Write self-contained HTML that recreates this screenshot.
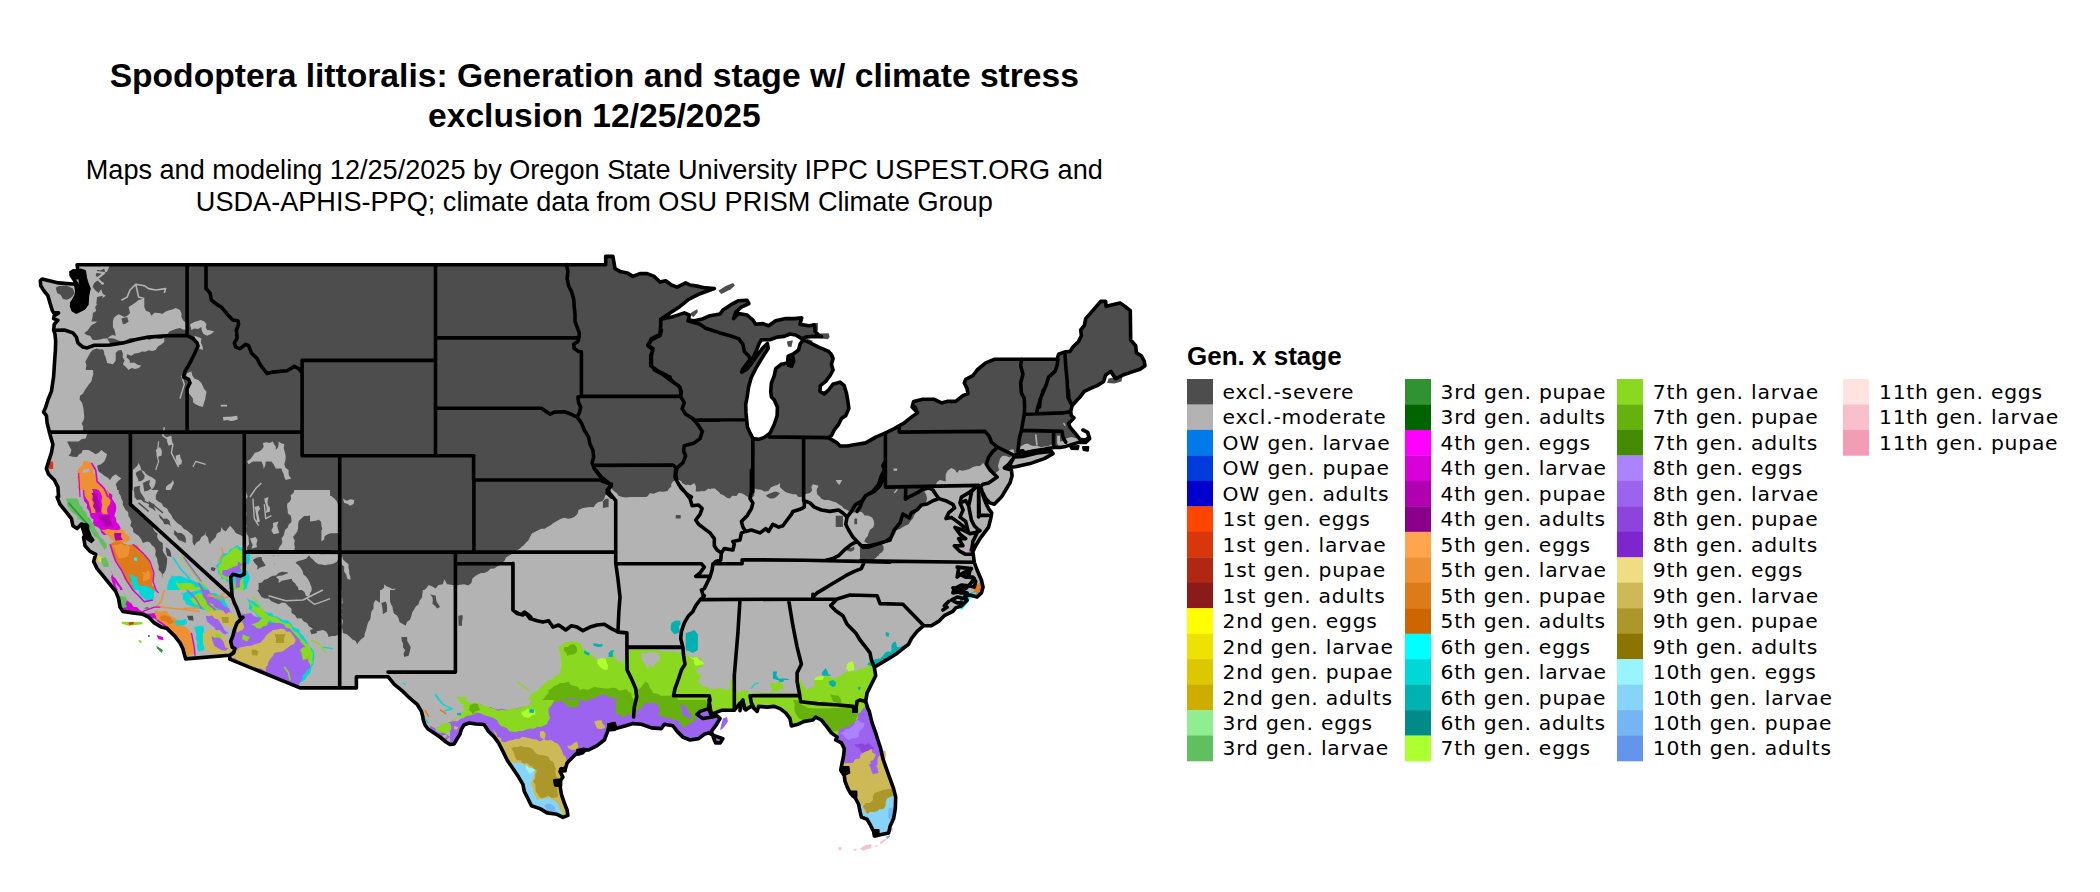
<!DOCTYPE html>
<html lang="en"><head><meta charset="utf-8"><title>Spodoptera littoralis: Generation and stage w/ climate stress exclusion 12/25/2025</title>
<style>
html,body{margin:0;padding:0;background:#fff}
body{width:2100px;height:892px;overflow:hidden}
svg{display:block}
.t{font-family:"Liberation Sans",Arial,sans-serif;font-weight:bold;font-size:33.62px;fill:#000;text-anchor:middle}
.s{font-family:"Liberation Sans",Arial,sans-serif;font-size:27.12px;fill:#000;text-anchor:middle}
.lt{font-family:"Liberation Sans",Arial,sans-serif;font-weight:bold;font-size:26.0px;fill:#000}
.ll{font-family:"DejaVu Sans",Verdana,sans-serif;font-size:20.3px;letter-spacing:0.78px;fill:#000}
.b{fill:none;stroke:#000;stroke-width:3.6;stroke-linejoin:round;stroke-linecap:round}
</style></head><body>
<svg width="2100" height="892" viewBox="0 0 2100 892">
<rect width="2100" height="892" fill="#fff"/>
<text class="t" x="594.3" y="87.2">Spodoptera littoralis: Generation and stage w/ climate stress</text>
<text class="t" x="594.3" y="127.4">exclusion 12/25/2025</text>
<text class="s" x="594.3" y="179.1">Maps and modeling 12/25/2025 by Oregon State University IPPC USPEST.ORG and</text>
<text class="s" x="594.3" y="211.1">USDA-APHIS-PPQ; climate data from OSU PRISM Climate Group</text>
<defs><clipPath id="land"><path d="M77.1,264.7 L77.9,270.0 L84.3,271.4 L85.4,278.6 L87.1,284.3 L88.9,288.6 L87.4,295.7 L86.9,304.3 L83.1,308.6 L77.1,311.7 L72.9,308.9 L71.7,303.1 L76.0,298.6 L78.6,292.9 L79.7,287.4 L77.1,284.3 L72.9,277.9 L71.0,275.0 L72.9,271.7 L76.0,271.0 L80.0,274.3 L82.9,278.6 L84.3,285.7 L85.0,292.9 L83.6,300.0 L80.0,305.7 L75.7,307.1 L74.3,302.9 L77.9,297.1 L75.7,284.3 L58.6,282.9 L42.1,279.0 L40.3,280.7 L40.7,285.7 L44.3,291.4 L47.9,295.7 L50.0,302.9 L52.1,310.0 L53.6,312.9 L58.6,312.9 L54.3,315.7 L53.6,318.6 L57.9,320.3 L54.3,324.3 L53.6,330.0 L55.0,334.3 L55.7,341.4 L55.4,350.0 L54.6,361.4 L53.6,377.0 L52.9,381.4 L51.4,391.4 L47.9,400.0 L45.7,407.1 L43.6,412.1 L46.4,415.7 L47.1,422.9 L49.3,431.7 L50.7,437.1 L52.9,444.3 L51.4,452.9 L48.6,461.4 L46.4,468.6 L48.6,474.3 L54.3,480.0 L57.9,487.1 L58.6,497.0 L57.1,497.1 L60.0,504.3 L65.7,511.4 L71.4,518.6 L72.9,525.7 L77.1,528.6 L81.4,524.3 L87.1,525.7 L85.7,532.9 L91.4,540.0 L87.1,537.1 L83.6,537.1 L85.0,545.7 L90.0,551.4 L95.7,554.3 L93.6,561.4 L97.1,568.6 L102.9,575.7 L110.0,584.3 L115.7,591.4 L118.6,598.6 L120.0,607.1 L122.9,611.4 L132.9,612.9 L142.9,614.3 L148.6,617.0 L148.6,617.0 L154.3,622.9 L161.4,627.1 L167.1,628.6 L174.3,635.7 L180.0,642.9 L182.9,648.6 L184.3,654.3 L185.7,658.9 L185.7,658.9 L230.0,655.3 L229.7,659.1 L300.0,687.9 L356.4,687.9 L356.4,676.7 L388.0,676.7 L394.3,684.3 L402.9,691.4 L408.6,697.1 L417.1,704.3 L421.4,711.4 L422.9,717.0 L423.0,719.0 L425.0,725.0 L428.0,729.0 L434.0,733.0 L440.0,737.0 L446.0,742.0 L450.0,744.5 L454.0,744.0 L457.0,739.0 L460.0,734.0 L461.5,729.0 L464.0,725.0 L469.0,723.0 L476.0,724.0 L484.0,724.5 L488.6,731.4 L494.3,737.1 L498.6,742.9 L502.9,751.4 L507.1,760.0 L512.9,768.6 L518.6,777.1 L522.9,784.3 L524.3,791.4 L528.6,800.0 L531.4,805.7 L540.0,808.6 L547.1,812.9 L557.1,814.3 L562.9,817.4 L567.9,815.4 L567.9,815.4 L567.1,810.0 L564.3,802.9 L561.4,794.3 L560.0,785.7 L555.7,784.3 L555.0,780.7 L560.7,780.0 L562.9,777.1 L560.0,771.4 L561.4,768.6 L565.0,770.0 L567.1,762.9 L572.9,757.1 L578.6,751.4 L582.9,750.0 L588.6,750.0 L597.1,745.7 L604.3,740.0 L607.1,732.9 L609.3,725.0 L614.3,723.6 L615.7,728.6 L625.7,725.7 L632.9,723.6 L641.4,724.3 L651.4,727.9 L661.4,728.6 L664.3,724.3 L672.9,725.7 L677.1,731.4 L682.9,737.1 L690.0,740.0 L698.6,738.6 L704.3,734.3 L708.6,732.9 L714.3,735.7 L722.9,738.6 L720.3,742.9 L715.7,742.9 L714.3,740.0 L711.4,731.4 L715.7,725.7 L720.0,718.6 L717.1,715.7 L712.1,717.0 L712.1,717.0 L714.3,713.1 L721.4,710.3 L734.3,710.3 L740.0,703.1 L742.9,701.7 L745.7,710.0 L751.4,706.0 L757.1,711.4 L758.6,706.4 L767.1,707.1 L774.3,706.4 L780.0,708.6 L785.7,712.9 L790.0,718.6 L791.4,726.0 L797.1,724.6 L804.3,721.4 L812.9,720.0 L815.7,717.1 L821.4,720.0 L827.1,727.1 L831.4,732.9 L837.1,737.1 L835.7,740.0 L841.4,742.9 L844.3,748.6 L843.6,755.7 L842.1,762.9 L840.7,770.0 L844.3,775.7 L845.0,781.4 L847.9,788.6 L850.7,793.6 L855.7,798.6 L858.6,804.3 L860.0,811.4 L861.4,817.1 L867.1,819.3 L870.7,825.7 L873.6,831.4 L875.0,836.0 L881.4,834.6 L888.6,832.9 L890.3,825.7 L893.6,818.6 L895.3,808.6 L895.7,797.1 L893.6,788.6 L890.0,778.6 L886.4,768.6 L882.9,758.6 L880.7,748.6 L877.9,740.0 L875.7,732.9 L872.1,722.9 L869.3,711.4 L867.9,708.6 L865.7,701.4 L867.1,692.9 L871.4,684.3 L875.7,675.7 L874.3,667.1 L881.4,662.9 L888.6,658.6 L895.7,654.3 L902.9,648.6 L908.6,644.3 L911.4,638.6 L917.1,631.4 L923.6,625.7 L931.4,625.7 L938.6,621.4 L944.3,615.7 L952.9,611.4 L955.7,607.9 L961.4,606.0 L967.1,600.3 L965.0,596.0 L970.0,595.0 L977.1,597.0 L981.4,592.9 L983.1,587.1 L981.4,580.0 L977.1,570.0 L974.3,562.3 L972.9,551.7 L975.7,545.7 L980.0,538.6 L984.3,532.9 L988.6,527.1 L990.7,518.6 L991.7,512.9 L988.6,508.6 L985.7,502.9 L983.1,495.7 L981.4,488.6 L980.0,488.6 L980.0,488.6 L982.9,492.9 L985.7,498.6 L990.0,502.9 L994.3,504.3 L1001.4,497.1 L1005.7,490.0 L1010.0,482.9 L1012.1,475.7 L1011.4,470.0 L1004.3,467.9 L1008.6,464.3 L1013.6,457.9 L1008.6,467.4 L1015.7,466.7 L1030.0,463.6 L1044.3,458.6 L1053.1,453.6 L1051.4,451.4 L1037.1,452.9 L1022.9,456.4 L1013.6,457.1 L1015.7,455.0 L1022.9,452.9 L1034.3,450.7 L1044.3,449.3 L1053.6,447.4 L1060.0,447.4 L1065.7,446.4 L1071.4,444.6 L1078.6,442.4 L1085.7,442.4 L1089.6,438.6 L1087.9,432.6 L1082.9,430.0 L1087.4,432.1 L1088.9,437.1 L1085.7,440.0 L1080.0,439.3 L1077.1,435.7 L1073.6,431.4 L1070.0,427.1 L1068.6,423.6 L1073.9,417.9 L1071.4,415.7 L1070.7,411.4 L1072.1,405.7 L1077.1,400.0 L1080.0,397.1 L1084.3,391.4 L1090.0,388.6 L1097.1,385.7 L1103.6,381.4 L1105.7,375.0 L1110.7,371.4 L1115.7,378.6 L1122.9,375.0 L1131.4,372.1 L1140.0,369.3 L1145.0,365.7 L1144.3,361.4 L1141.4,355.7 L1136.4,352.9 L1135.7,345.7 L1130.7,340.0 L1130.3,310.7 L1125.0,306.4 L1120.0,302.9 L1111.4,305.0 L1106.0,306.4 L1105.7,301.4 L1100.7,301.4 L1091.4,312.1 L1085.7,318.6 L1084.3,325.7 L1080.7,330.0 L1081.4,335.7 L1078.6,341.4 L1072.9,347.1 L1070.0,351.4 L1064.3,352.1 L1058.6,354.3 L1057.1,359.0 L994.3,359.3 L985.7,362.9 L977.1,370.0 L972.9,375.7 L965.7,379.3 L964.3,382.9 L967.1,388.6 L967.9,393.6 L962.9,395.7 L955.7,401.4 L947.1,401.4 L941.4,402.9 L934.3,399.3 L922.9,399.3 L913.6,401.4 L912.1,407.0 L916.4,411.4 L915.0,407.1 L917.4,412.9 L911.4,417.1 L904.3,422.9 L894.3,428.6 L885.7,432.9 L875.7,437.1 L865.7,442.9 L857.1,444.3 L847.1,446.0 L840.0,446.0 L837.1,442.9 L828.6,437.9 L831.4,435.7 L834.3,430.0 L838.6,424.3 L841.4,418.6 L845.7,415.7 L848.9,408.6 L847.9,401.4 L846.4,392.9 L844.3,385.7 L840.0,382.1 L832.9,384.3 L828.6,390.0 L824.3,393.9 L820.0,391.4 L820.3,385.7 L825.7,381.4 L830.0,375.7 L833.1,370.0 L831.4,364.3 L833.1,358.6 L830.7,353.6 L832.1,355.7 L828.6,351.4 L818.6,347.1 L808.6,342.1 L802.9,340.0 L800.0,344.3 L798.6,350.0 L792.9,354.3 L789.3,355.7 L792.9,358.6 L791.4,364.3 L787.4,362.9 L781.4,364.3 L775.7,368.6 L774.3,375.7 L771.4,382.9 L770.7,391.4 L771.4,397.0 L774.3,400.0 L777.4,407.1 L777.1,415.7 L774.3,424.3 L770.0,433.1 L764.3,437.4 L758.6,439.4 L752.9,438.6 L750.0,432.9 L747.4,427.1 L746.7,420.0 L746.0,412.9 L745.7,404.3 L747.1,397.0 L748.6,387.1 L751.4,377.1 L755.7,368.6 L760.0,361.4 L764.3,354.3 L768.3,348.3 L767.4,343.6 L762.9,347.9 L757.9,354.3 L752.9,361.4 L747.1,368.9 L741.7,372.1 L742.6,369.3 L746.4,364.3 L750.0,359.7 L752.9,357.9 L756.4,350.7 L759.3,343.1 L761.4,339.7 L770.0,339.7 L777.1,337.1 L784.3,336.4 L790.0,334.0 L795.7,335.0 L802.1,338.9 L805.7,337.1 L812.9,336.4 L821.7,336.6 L818.6,335.0 L815.1,331.4 L814.6,325.0 L808.6,325.7 L800.0,324.3 L801.7,317.9 L794.3,318.6 L785.7,318.6 L775.7,320.7 L768.6,325.7 L762.9,323.6 L755.7,324.3 L752.9,320.0 L747.1,315.0 L738.6,313.6 L733.6,318.6 L735.7,312.1 L741.4,307.1 L748.9,303.6 L747.1,300.3 L738.6,300.7 L732.9,303.6 L722.9,310.0 L720.0,314.0 L710.0,315.7 L701.4,319.3 L694.3,320.7 L688.6,320.0 L689.3,315.0 L684.3,312.9 L671.4,317.1 L660.7,319.3 L670.0,312.9 L680.0,306.4 L688.6,299.3 L698.6,294.3 L714.3,288.6 L705.7,287.9 L698.6,286.4 L690.0,285.0 L685.7,282.9 L677.1,287.1 L671.4,285.0 L665.7,280.7 L660.0,282.1 L654.3,276.4 L647.1,273.6 L640.0,273.6 L632.9,276.4 L627.1,272.9 L620.0,271.4 L615.0,268.6 L612.9,256.4 L605.7,256.4 L605.7,264.7Z"/></clipPath></defs>
<g clip-path="url(#land)">
<rect x="30" y="240" width="1130" height="630" fill="#4d4d4d"/>
<path fill="#b3b3b3" d="M77.0,300.0 L79.5,299.0 L80.0,302.0 L77.8,302.8Z"/>
<path fill="#b3b3b3" d="M30.0,264.7 L110.0,264.7 L108.7,268.1 L107.1,271.4 L103.9,273.4 L101.1,275.8 L98.6,278.6 L101.1,281.2 L104.3,282.9 L102.5,286.3 L101.4,290.0 L102.6,293.6 L105.7,295.7 L103.3,297.6 L100.7,299.3 L99.3,302.2 L97.1,304.3 L95.2,306.9 L96.1,310.9 L92.9,312.9 L92.6,317.2 L91.4,321.4 L97.1,321.4 L94.9,323.6 L92.0,324.7 L90.0,327.1 L87.6,330.4 L84.3,332.9 L86.7,335.1 L90.0,335.7 L92.9,340.0 L96.5,339.9 L100.0,339.5 L103.5,338.6 L107.1,338.6 L110.0,342.9 L107.4,345.9 L104.3,348.6 L100.5,349.5 L96.5,348.4 L92.9,350.0 L90.5,352.6 L88.8,355.5 L87.1,358.6 L85.3,361.7 L86.5,365.3 L85.7,368.6 L86.5,371.7 L87.4,374.8 L90.0,377.0 L30.0,377.0Z"/>
<path fill="#b3b3b3" d="M107.1,338.6 L110.5,338.2 L113.8,338.4 L116.8,339.8 L119.8,340.9 L122.9,342.1 L126.2,340.2 L129.5,338.3 L133.2,338.1 L137.1,338.6 L140.8,337.3 L144.8,337.1 L148.6,336.4 L151.9,335.3 L155.4,335.7 L158.9,336.4 L162.2,334.8 L165.7,335.4 L168.8,335.4 L171.8,336.0 L174.9,337.2 L178.0,336.0 L181.0,335.5 L184.1,336.1 L187.1,335.1 L188.2,332.0 L187.4,329.0 L188.5,325.8 L186.4,322.9 L183.2,320.6 L181.4,317.1 L181.5,313.4 L180.0,310.0 L175.7,307.9 L172.5,309.4 L169.0,310.2 L165.7,311.4 L162.5,313.7 L158.6,312.9 L154.4,312.7 L151.4,315.7 L149.7,312.3 L145.9,310.7 L144.3,307.1 L144.3,298.6 L138.6,300.0 L135.8,302.2 L132.9,304.3 L128.6,307.1 L130.0,312.9 L127.6,315.6 L124.3,317.1 L121.5,315.5 L118.6,314.3 L115.8,316.0 L113.7,318.2 L112.9,321.4 L112.9,327.1 L114.4,329.8 L115.2,332.7 L115.7,335.7 L112.3,335.1 L109.6,336.5Z"/>
<path fill="#b3b3b3" d="M101.4,345.7 L102.1,348.7 L104.0,351.2 L104.3,354.3 L105.6,357.0 L106.4,359.9 L107.1,362.9 L112.9,364.3 L115.5,360.9 L115.8,356.9 L115.7,352.9 L118.1,350.5 L121.4,350.0 L122.9,353.5 L122.6,357.1 L124.6,360.5 L122.9,364.3 L125.9,366.9 L128.6,370.0 L131.5,368.1 L135.4,369.0 L138.6,368.1 L141.4,365.7 L137.6,364.7 L134.1,362.5 L130.0,362.9 L129.5,359.9 L126.6,357.6 L127.1,354.3 L131.2,355.7 L134.8,353.4 L138.6,352.9 L141.9,351.4 L145.4,351.8 L148.7,350.3 L152.3,350.9 L155.7,350.0 L157.9,346.6 L161.2,344.5 L164.3,342.1 L164.3,337.9 L161.3,339.1 L158.3,339.0 L155.2,338.0 L152.2,338.8 L149.3,339.9 L146.2,338.8 L143.2,339.4 L140.1,338.8 L137.1,339.3 L133.9,338.9 L130.9,339.7 L128.0,341.4 L124.5,339.6 L121.6,341.2 L118.8,343.0 L115.7,343.6 L112.2,344.6 L108.6,344.9 L105.3,347.3Z"/>
<path fill="#b3b3b3" d="M190.0,324.3 L194.3,322.1 L197.6,321.1 L200.8,320.0 L204.3,321.4 L206.4,323.9 L205.8,327.3 L207.1,330.0 L210.7,330.6 L214.3,331.4 L211.0,334.0 L207.1,335.7 L203.5,334.0 L201.9,331.0 L201.4,327.1 L198.1,328.9 L194.3,328.6 L191.4,330.0Z"/>
<path fill="#b3b3b3" d="M194.3,335.7 L198.0,336.9 L201.4,338.6 L200.9,342.5 L202.6,346.2 L202.9,350.0 L198.6,348.6 L198.0,345.0 L197.1,341.4 L195.4,338.7Z"/>
<path fill="#4d4d4d" d="M55.7,287.4 L59.1,285.9 L62.9,285.7 L66.6,285.4 L69.7,287.1 L72.9,288.6 L74.6,292.9 L72.6,296.0 L70.0,298.6 L66.5,299.7 L62.9,298.9 L60.8,295.1 L57.1,292.9Z"/>
<path fill="#4d4d4d" d="M172.9,330.0 L176.4,328.8 L180.0,327.9 L183.0,329.5 L186.4,330.0 L186.4,334.6 L167.1,334.6 L169.4,331.5Z"/>
<path fill="#b3b3b3" d="M30.0,370.0 L92.9,370.0 L93.4,373.9 L92.2,377.7 L91.4,381.4 L89.1,384.1 L87.1,387.1 L84.9,390.1 L83.1,393.5 L80.0,395.7 L79.6,399.4 L81.9,402.4 L82.9,405.7 L83.6,409.5 L83.9,413.3 L84.3,417.1 L83.6,420.3 L81.7,423.4 L83.2,426.8 L82.9,430.0 L84.9,432.3 L87.1,434.3 L85.7,438.6 L81.8,439.1 L78.6,441.4 L67.1,441.4 L68.4,444.3 L69.9,447.2 L71.4,450.0 L70.6,453.2 L68.6,455.7 L72.8,456.7 L77.1,457.1 L78.8,454.6 L81.6,452.9 L82.9,450.0 L88.6,450.0 L92.2,452.0 L95.7,454.3 L98.9,452.6 L101.4,450.0 L104.2,452.3 L107.1,454.3 L105.9,457.9 L104.3,461.4 L101.1,464.2 L97.1,465.7 L98.6,471.4 L101.6,473.4 L104.3,475.7 L107.5,477.4 L110.0,480.0 L112.3,476.6 L115.7,474.3 L118.5,476.5 L121.4,478.6 L118.1,481.0 L115.7,484.3 L117.0,487.7 L117.1,491.4 L117.7,495.4 L121.4,497.0 L30.0,497.0Z"/>
<path fill="#ee9034" d="M83.6,460.7 L86.8,461.2 L90.0,462.1 L91.9,464.9 L94.3,467.1 L92.9,472.9 L96.5,475.5 L97.1,480.0 L99.2,483.2 L102.9,484.3 L103.3,487.6 L105.1,490.3 L107.1,492.9 L107.9,497.0 L79.3,497.0 L79.0,493.8 L79.6,490.6 L77.1,487.6 L78.6,484.3 L78.0,481.1 L76.9,478.0 L77.7,474.6 L77.1,471.4 L79.1,468.1 L82.1,465.7Z"/>
<path fill="#b100b1" d="M92.1,489.3 L97.1,489.3 L97.1,497.0 L92.1,497.0Z"/>
<path fill="#b3b3b3" d="M82.9,470.0 L86.4,468.9 L90.0,468.6 L88.6,472.1 L82.9,473.1Z"/>
<path fill="#d8360b" d="M49.7,461.4 L52.9,461.4 L53.2,465.1 L53.1,468.9 L48.6,468.9 L47.9,465.0Z"/>
<path fill="#b3b3b3" d="M132.9,470.0 L135.1,467.9 L137.4,465.8 L138.6,462.9 L140.3,466.3 L141.4,470.0 L144.2,471.5 L146.1,474.0 L148.6,475.7 L152.3,477.6 L155.7,480.0 L155.5,483.1 L154.6,486.0 L152.9,488.6 L150.5,490.5 L149.4,493.6 L146.0,494.5 L144.3,497.0 L132.9,497.0Z"/>
<path fill="#b3b3b3" d="M165.7,490.0 L166.2,486.6 L168.6,484.5 L171.4,482.7 L172.9,480.0 L174.0,482.9 L172.5,486.3 L170.9,489.7 L167.4,491.7Z"/>
<path fill="#b3b3b3" d="M187.1,372.9 L191.4,371.4 L192.3,375.2 L194.3,378.6 L198.4,379.9 L201.4,382.9 L202.8,386.0 L204.1,389.1 L206.6,391.8 L205.7,395.7 L205.2,399.6 L203.8,403.3 L202.9,407.1 L198.6,405.7 L195.5,404.3 L193.1,402.3 L192.9,398.6 L190.8,395.5 L188.2,392.7 L188.6,388.6 L189.2,385.3 L187.8,382.3 L186.6,379.2 L185.9,376.1Z"/>
<path fill="#b3b3b3" d="M222.9,417.1 L226.4,416.8 L230.0,416.7 L233.6,416.2 L237.1,415.7 L237.9,419.3 L234.4,420.5 L230.8,421.0 L227.1,420.1 L223.6,420.7Z"/>
<path fill="#b3b3b3" d="M220.7,404.7 L227.1,404.7 L227.1,406.6 L220.7,406.6Z"/>
<path fill="#b3b3b3" d="M247.1,461.4 L250.5,459.1 L252.9,455.7 L254.9,452.7 L258.5,451.8 L261.4,450.0 L263.7,446.7 L262.9,442.9 L266.2,442.2 L269.7,443.1 L272.9,441.4 L274.0,444.2 L275.9,446.8 L275.7,450.0 L277.9,447.5 L278.6,444.6 L278.6,441.4 L281.2,443.3 L284.3,444.3 L283.7,448.2 L284.8,452.0 L285.7,455.7 L285.5,460.1 L284.3,464.3 L285.5,467.8 L288.6,470.0 L288.5,473.2 L289.2,476.1 L291.4,478.6 L285.7,480.0 L284.3,477.3 L283.8,474.2 L282.4,471.5 L281.4,468.6 L275.7,468.6 L273.9,464.8 L271.4,461.4 L265.7,461.4 L265.3,465.2 L263.8,468.9 L264.3,472.9 L263.8,468.9 L263.0,465.1 L261.4,461.4 L252.9,461.4 L248.6,464.3Z"/>
<path fill="#b3b3b3" d="M605.7,497.0 L608.5,495.4 L610.0,492.7 L611.4,490.0 L614.0,492.1 L615.1,495.8 L618.6,497.0Z"/>
<path fill="#b3b3b3" d="M645.7,497.0 L649.3,496.1 L652.4,494.3 L655.7,492.9 L659.2,491.4 L662.8,491.8 L666.4,491.2 L670.0,491.4 L671.5,488.2 L671.1,484.5 L672.9,481.4 L678.6,480.0 L681.7,481.4 L682.5,484.7 L684.3,487.1 L687.5,484.6 L691.4,485.7 L694.3,481.4 L692.2,484.5 L691.4,487.8 L692.9,491.4 L704.3,491.4 L708.5,491.7 L711.4,488.6 L715.0,488.6 L717.4,490.8 L720.0,492.9 L720.0,497.0Z"/>
<path fill="#b3b3b3" d="M935.7,485.4 L937.0,482.0 L940.0,480.0 L945.7,481.4 L945.7,474.3 L947.8,470.4 L951.4,467.9 L954.9,469.7 L957.1,472.9 L959.3,469.9 L962.8,470.8 L965.7,470.0 L969.5,469.0 L972.9,467.1 L976.4,466.1 L980.3,466.0 L982.9,462.9 L986.4,465.7 L990.0,470.0 L991.1,473.2 L994.3,474.3 L997.1,477.1 L994.1,479.1 L991.4,481.4 L988.4,482.4 L985.2,483.0 L982.9,485.4Z"/>
<path fill="#b3b3b3" d="M988.6,482.9 L991.7,481.4 L995.2,480.4 L997.1,477.1 L994.3,474.3 L996.8,472.1 L999.3,470.0 L997.9,466.1 L999.0,462.3 L1000.0,458.6 L1002.3,456.1 L1005.7,455.7 L1009.8,457.4 L1013.6,455.0 L1013.6,457.9 L1010.6,459.7 L1009.7,463.6 L1007.3,466.0 L1004.3,467.9 L1007.7,469.5 L1011.4,470.0 L1012.1,475.7 L1012.6,479.8 L1010.0,482.9 L1006.7,485.8 L1005.7,490.0 L1004.7,494.3 L1001.4,497.1 L998.0,498.5 L995.8,501.0 L994.3,504.3 L990.0,502.9 L987.7,500.9 L985.7,498.6 L984.3,495.7 L982.9,492.9 L980.0,488.6 L982.9,484.3Z"/>
<path fill="#b3b3b3" d="M1009.3,450.0 L1013.6,449.3 L1014.3,453.6 L1010.0,454.6Z"/>
<path fill="#b3b3b3" d="M1020.7,446.4 L1024.3,444.3 L1027.6,443.6 L1030.7,445.3 L1033.8,446.1 L1037.1,445.4 L1040.8,447.2 L1044.4,446.5 L1047.9,446.2 L1051.4,444.6 L1053.6,446.9 L1050.3,447.0 L1047.2,447.9 L1044.3,449.3 L1041.2,451.4 L1037.7,450.9 L1034.3,450.7 L1030.7,452.6 L1026.5,451.4 L1022.9,452.9 L1017.9,452.9 L1019.0,449.5Z"/>
<path fill="#b3b3b3" d="M1057.1,435.7 L1060.0,435.7 L1060.0,441.4 L1063.3,440.9 L1065.7,438.6 L1071.4,437.1 L1077.1,438.6 L1081.5,439.0 L1085.7,440.0 L1088.9,437.1 L1089.6,438.6 L1085.7,442.4 L1078.6,442.4 L1075.3,443.3 L1072.3,445.9 L1068.8,445.8 L1065.8,447.9 L1062.2,447.7 L1058.6,447.4 L1057.1,442.9Z"/>
<path fill="#b3b3b3" d="M1013.6,457.1 L1016.7,457.1 L1019.8,456.8 L1022.9,456.4 L1026.4,455.4 L1029.7,453.3 L1033.4,453.0 L1037.1,452.9 L1040.7,452.4 L1044.2,451.0 L1047.9,452.1 L1051.4,451.4 L1053.1,453.6 L1050.2,455.3 L1048.2,458.6 L1044.3,458.6 L1041.0,458.3 L1038.3,459.9 L1035.1,459.8 L1032.9,462.6 L1030.0,463.6 L1026.5,464.7 L1023.1,466.3 L1019.2,465.4 L1015.7,466.7 L1012.3,468.5 L1008.6,467.4 L1009.5,463.6 L1011.7,460.5Z"/>
<path fill="#b3b3b3" d="M893.6,468.6 L897.1,468.6 L897.1,470.7 L893.6,470.7Z"/>
<path fill="#b3b3b3" d="M30.0,490.0 L330.0,490.0 L330.0,617.0 L30.0,617.0Z"/>
<path fill="#4d4d4d" d="M118.6,490.0 L130.0,490.0 L130.9,493.5 L130.6,497.1 L131.1,500.7 L130.7,504.3 L132.9,507.3 L136.4,508.9 L138.6,512.0 L141.4,514.3 L144.4,515.9 L146.3,518.5 L147.5,521.9 L150.0,524.0 L152.9,525.7 L153.2,528.8 L154.9,531.5 L157.6,533.7 L157.1,537.1 L158.9,540.6 L162.6,542.9 L162.9,547.1 L162.7,550.5 L164.0,553.2 L165.9,555.8 L167.1,558.6 L167.0,562.4 L166.5,566.2 L165.7,570.0 L164.3,572.7 L162.1,575.1 L162.9,578.6 L162.6,575.1 L161.0,572.3 L158.6,570.0 L158.8,566.1 L157.6,562.4 L157.1,558.6 L155.2,555.0 L155.8,550.8 L154.3,547.1 L151.8,545.3 L150.1,542.6 L147.1,541.4 L142.9,542.9 L141.1,539.0 L138.6,535.7 L135.9,533.9 L133.3,532.1 L132.9,528.6 L130.3,525.7 L131.4,521.8 L130.0,518.6 L128.3,515.8 L128.3,512.3 L125.7,510.0 L124.1,507.3 L122.7,504.6 L122.9,501.4 L121.3,498.8 L120.7,495.7 L118.9,493.2Z"/>
<path fill="#4d4d4d" d="M158.6,490.0 L243.6,490.0 L243.6,537.1 L239.8,534.7 L235.7,532.9 L234.0,530.3 L232.1,527.9 L230.0,525.7 L227.8,528.5 L225.7,531.4 L223.0,529.8 L221.4,527.1 L220.9,531.3 L216.9,533.4 L215.7,537.1 L213.6,539.4 L211.3,541.5 L210.0,544.3 L208.6,541.2 L208.1,537.8 L205.5,535.1 L205.7,531.4 L204.6,535.1 L201.4,537.1 L199.7,540.6 L196.4,542.6 L194.3,545.7 L192.7,542.7 L192.5,539.2 L192.7,535.5 L190.0,532.9 L187.1,530.5 L183.7,528.8 L181.4,525.7 L177.1,522.9 L175.0,520.7 L172.9,518.6 L171.3,515.0 L168.8,512.0 L167.1,508.6 L163.5,506.5 L161.4,502.9 L158.4,501.4 L156.0,499.4 L155.7,495.7 L157.0,492.8Z"/>
<path fill="#4d4d4d" d="M165.7,547.1 L170.0,550.0 L170.9,553.5 L171.4,557.1 L167.1,555.7 L166.1,551.5Z"/>
<path fill="#4d4d4d" d="M211.4,567.1 L215.7,567.9 L214.3,571.4 L210.7,570.0Z"/>
<path fill="#4d4d4d" d="M245.7,490.0 L294.3,490.0 L293.5,493.0 L290.6,495.2 L291.2,498.8 L289.8,501.6 L287.2,503.8 L287.1,507.1 L287.7,510.2 L287.9,513.4 L290.7,515.6 L291.4,518.6 L291.4,522.1 L288.7,524.4 L287.8,527.5 L285.1,529.7 L284.3,532.9 L283.6,535.8 L281.5,538.3 L282.4,541.7 L281.5,544.6 L279.4,547.1 L278.6,550.0 L275.4,550.8 L272.3,552.1 L269.1,550.1 L266.0,551.7 L262.9,550.4 L259.7,550.7 L256.6,549.9 L253.4,550.4 L250.3,550.0 L247.1,550.7 L247.0,547.3 L249.1,544.1 L248.7,540.6 L248.6,537.1 L246.5,533.6 L245.7,529.8 L246.4,525.7 L245.6,522.5 L245.6,519.2 L246.2,516.0 L246.3,512.7 L245.6,509.5 L245.6,506.2 L246.2,503.0 L245.9,499.7 L247.7,496.5 L246.5,493.2Z"/>
<path fill="#4d4d4d" d="M301.4,518.6 L304.1,516.0 L307.7,516.0 L310.9,515.0 L314.3,514.3 L316.6,516.8 L318.6,519.6 L321.1,522.0 L321.4,525.7 L322.3,529.1 L323.0,532.5 L324.3,535.7 L327.2,534.4 L330.0,532.9 L330.0,550.7 L294.3,550.7 L294.9,547.2 L294.2,543.9 L294.8,540.4 L292.9,537.1 L295.1,534.4 L297.2,531.6 L298.1,528.3 L298.1,524.5 L298.8,521.1Z"/>
<path fill="#4d4d4d" d="M252.9,560.0 L255.4,558.2 L258.3,557.2 L261.4,557.1 L262.2,560.3 L264.2,562.9 L265.7,565.7 L262.7,566.8 L259.6,567.7 L257.1,570.0 L257.6,565.9 L254.7,563.1Z"/>
<path fill="#4d4d4d" d="M272.9,555.7 L277.3,556.0 L281.4,554.3 L282.2,557.8 L282.3,561.2 L280.0,564.3 L274.3,564.3 L275.1,559.7Z"/>
<path fill="#4d4d4d" d="M258.6,582.9 L261.9,582.4 L264.2,579.8 L267.3,579.0 L270.0,577.1 L272.9,575.7 L276.1,575.5 L278.4,572.9 L281.3,572.0 L284.2,571.0 L287.1,570.0 L290.0,568.2 L292.1,565.6 L294.7,563.6 L297.1,561.4 L300.2,560.4 L303.4,559.7 L306.4,558.4 L308.6,555.7 L311.7,555.9 L314.7,555.9 L317.8,556.2 L320.7,553.7 L323.8,553.7 L326.9,554.4 L330.0,554.3 L330.0,617.0 L272.9,617.0 L269.9,614.5 L269.3,610.7 L267.3,607.6 L265.7,604.3 L264.6,601.0 L262.9,598.1 L260.9,595.4 L258.6,592.9Z"/>
<path fill="#b3b3b3" d="M275.7,577.1 L278.8,575.8 L282.2,575.6 L285.3,574.3 L288.4,573.1 L291.1,570.9 L294.3,570.0 L296.6,572.4 L299.2,574.6 L301.4,577.1 L303.5,580.2 L305.0,583.6 L306.0,587.2 L308.6,590.0 L307.8,592.9 L306.2,595.6 L305.7,598.6 L303.7,595.4 L300.7,593.1 L298.6,590.0 L297.8,586.8 L296.8,583.7 L293.2,582.0 L292.9,578.6 L289.2,579.3 L285.5,580.0 L281.8,580.7 L278.6,582.9 L278.7,579.2Z"/>
<path fill="#d800d8" d="M82.9,490.0 L107.1,490.0 L109.2,492.7 L112.3,494.7 L112.1,498.7 L113.9,501.5 L115.7,504.3 L116.3,508.2 L115.6,512.0 L114.3,515.7 L116.1,518.4 L116.3,521.9 L118.6,524.3 L120.1,527.1 L121.1,530.2 L122.9,532.9 L120.1,535.2 L116.7,535.8 L112.9,535.0 L110.0,537.1 L107.9,534.3 L103.9,535.0 L101.4,532.9 L100.3,529.3 L97.6,527.1 L94.3,525.7 L93.0,523.0 L93.6,519.4 L90.7,517.3 L90.0,514.3 L89.2,510.9 L86.8,508.0 L87.1,504.3 L84.2,501.3 L83.5,497.6 L83.0,493.9Z"/>
<path fill="#ee9034" d="M84.3,490.0 L92.9,490.0 L92.9,498.6 L94.0,502.1 L95.0,505.7 L95.3,509.5 L97.1,512.9 L91.4,512.9 L90.8,509.0 L89.4,505.3 L88.6,501.4 L86.4,499.0 L84.8,496.3 L84.3,493.2Z"/>
<path fill="#ee9034" d="M98.6,490.0 L107.1,490.0 L109.2,493.3 L108.3,497.2 L110.7,500.4 L110.0,504.3 L107.5,507.2 L106.9,510.6 L107.9,514.3 L102.9,514.3 L101.1,511.2 L101.7,507.9 L102.2,504.6 L101.4,501.4 L102.1,497.2 L100.9,493.5Z"/>
<path fill="#b100b1" d="M91.4,492.9 L98.6,492.9 L97.4,496.2 L97.9,499.3 L99.6,502.2 L99.1,505.4 L100.6,508.4 L101.4,511.4 L95.7,512.9 L95.1,509.5 L92.9,506.5 L93.9,502.8 L92.2,499.7 L92.9,496.0Z"/>
<path fill="#b100b1" d="M98.6,515.7 L102.4,515.3 L106.3,515.7 L110.0,514.3 L110.2,518.3 L111.2,522.1 L112.9,525.7 L108.6,526.6 L104.3,527.1 L103.4,524.0 L101.6,521.4 L99.7,518.7Z"/>
<path fill="#ee9034" d="M101.4,530.0 L104.8,529.7 L108.1,528.9 L111.5,529.8 L114.8,530.0 L118.2,530.1 L121.4,528.6 L124.2,531.0 L126.2,533.9 L129.0,536.3 L130.0,540.0 L126.7,542.1 L123.0,542.2 L119.3,542.0 L115.7,542.9 L112.9,540.6 L110.0,538.6 L108.7,535.6 L106.1,533.9 L103.6,532.1Z"/>
<path fill="#b100b1" d="M114.3,532.9 L121.4,532.9 L120.9,536.7 L122.9,540.0 L119.3,540.3 L115.7,540.7 L114.4,536.9Z"/>
<path fill="#dd7b1a" d="M110.0,544.3 L113.5,542.0 L117.4,541.4 L121.4,541.4 L124.8,544.1 L128.7,544.9 L132.9,544.3 L136.6,544.9 L138.9,547.4 L140.5,550.5 L142.9,552.9 L145.8,555.2 L148.4,557.9 L150.0,561.4 L150.2,565.5 L152.8,568.9 L153.6,572.9 L153.7,577.2 L152.9,581.4 L151.8,584.9 L155.0,587.1 L155.7,590.0 L155.3,593.1 L153.9,595.8 L152.9,598.6 L150.6,601.3 L147.0,600.1 L144.3,601.4 L140.3,599.7 L138.6,595.7 L136.0,592.6 L132.9,590.0 L131.1,587.0 L128.8,584.4 L127.1,581.4 L124.3,579.3 L123.2,576.2 L123.1,572.7 L121.4,570.0 L120.2,566.7 L118.4,563.8 L115.7,561.4 L113.8,558.3 L112.5,554.9 L111.4,551.4 L111.1,547.8Z"/>
<path fill="#ee9034" d="M111.4,545.7 L114.9,545.3 L118.3,544.6 L121.4,542.9 L123.7,545.5 L127.6,544.9 L130.0,547.1 L129.2,550.5 L128.9,554.0 L127.1,557.1 L122.9,558.1 L118.6,558.6 L117.1,555.2 L115.5,551.9 L114.7,548.1Z"/>
<path fill="#ee9034" d="M141.4,571.4 L145.4,572.7 L148.6,570.0 L150.4,574.1 L150.0,578.6 L146.6,580.3 L142.9,581.4 L143.1,578.0 L143.7,574.5Z"/>
<path fill="#00d8d8" d="M128.6,574.3 L134.3,575.7 L137.0,577.6 L137.5,581.0 L138.1,584.3 L141.4,585.7 L145.8,586.0 L150.0,587.1 L152.3,590.0 L154.6,592.9 L152.5,596.1 L152.9,600.0 L148.5,600.7 L144.3,601.7 L142.3,598.8 L140.5,595.8 L138.6,592.9 L136.3,590.8 L133.5,589.1 L132.9,585.7 L131.2,583.1 L131.4,579.8 L130.5,576.8Z"/>
<path fill="#00ffff" d="M134.0,557.6 L137.1,557.6 L137.1,560.7 L134.0,560.7Z"/>
<path fill="#60c060" d="M65.7,498.6 L77.1,498.6 L78.7,501.6 L79.9,504.9 L82.5,507.3 L83.9,510.4 L86.5,512.8 L87.2,516.4 L90.0,518.6 L91.5,521.9 L94.1,524.7 L95.0,528.4 L97.1,531.4 L98.7,534.1 L99.8,537.1 L102.8,538.9 L104.5,541.5 L106.5,543.8 L107.1,547.1 L104.3,550.0 L103.0,546.9 L100.9,544.4 L99.4,541.4 L97.9,538.5 L94.3,537.1 L93.1,534.2 L91.4,531.7 L90.0,528.9 L87.1,527.1 L83.8,526.0 L82.4,523.2 L81.3,520.2 L77.8,519.1 L77.1,515.7 L74.1,513.7 L71.3,511.6 L69.2,508.7 L67.1,505.7 L67.1,502.0Z"/>
<path fill="#eee300" d="M97.1,555.7 L101.4,557.1 L101.6,560.3 L103.1,563.1 L98.6,561.4Z"/>
<path fill="#60c060" d="M101.4,558.6 L105.7,557.1 L107.0,560.4 L108.8,563.5 L108.6,567.1 L104.3,567.1 L102.4,564.6 L101.3,561.8Z"/>
<path fill="#d800d8" d="M110.0,570.0 L112.2,572.6 L112.9,576.3 L115.7,578.6 L117.5,581.4 L119.4,584.2 L121.5,586.9 L122.9,590.0 L123.1,593.6 L126.8,594.8 L127.8,597.8 L130.0,600.0 L133.0,601.2 L135.6,602.9 L136.7,606.1 L138.6,608.6 L141.5,610.5 L144.3,613.0 L147.6,614.2 L151.4,614.3 L154.7,616.5 L158.6,617.0 L144.3,617.0 L141.2,615.7 L138.3,614.1 L135.0,613.2 L132.8,610.3 L130.0,608.6 L126.5,607.2 L124.6,604.5 L122.1,602.3 L121.4,598.6 L119.0,596.2 L116.9,593.5 L116.5,589.9 L113.8,587.6 L112.9,584.3 L111.9,580.8 L111.0,577.2 L112.5,573.2Z"/>
<path fill="#b3b3b3" d="M115.7,581.4 L116.7,584.8 L119.2,587.2 L120.4,590.4 L122.9,592.9 L124.8,595.2 L126.9,597.5 L128.0,600.5 L130.0,602.9 L133.4,604.6 L136.0,607.3 L138.6,610.0 L135.7,611.4 L133.1,608.7 L129.4,607.4 L127.1,604.3 L124.9,601.3 L122.7,598.3 L120.0,595.7 L118.2,592.4 L117.5,588.7 L115.6,585.4Z"/>
<path fill="#60c060" d="M121.4,602.9 L125.7,601.4 L128.0,604.6 L128.6,608.6 L124.3,610.0 L123.1,606.3Z"/>
<path fill="#00d8d8" d="M170.0,578.6 L173.0,576.3 L176.5,576.2 L180.0,575.7 L182.8,577.1 L185.6,578.3 L188.8,578.5 L191.5,580.0 L194.3,581.4 L197.5,582.5 L200.7,583.8 L203.5,585.5 L206.3,587.3 L208.6,590.0 L209.8,593.8 L213.5,595.6 L215.7,598.6 L219.2,600.9 L222.8,602.5 L227.1,601.4 L227.3,604.6 L226.9,607.9 L227.3,611.1 L228.0,614.2 L230.0,617.0 L187.1,617.0 L185.8,613.8 L184.9,610.3 L184.3,606.8 L181.4,604.3 L178.4,602.7 L175.3,601.1 L172.9,598.6 L169.9,596.4 L168.0,593.5 L167.1,590.0 L167.3,586.0 L168.2,582.2Z"/>
<path fill="#8ad81f" d="M175.7,581.4 L179.3,583.6 L183.2,583.1 L187.1,582.9 L190.6,583.1 L193.5,584.4 L195.5,587.5 L199.4,586.9 L201.4,590.0 L204.0,592.1 L207.0,593.9 L208.4,597.0 L210.0,600.0 L213.0,601.9 L216.4,602.1 L220.3,601.2 L222.9,604.3 L224.9,606.8 L226.0,609.8 L227.1,612.9 L223.1,613.9 L219.3,614.0 L215.7,611.4 L213.2,609.2 L210.2,608.2 L206.9,607.7 L204.2,605.9 L201.4,604.3 L198.8,602.6 L196.3,600.6 L193.1,600.1 L190.5,598.6 L187.1,598.6 L184.2,596.1 L181.7,593.4 L180.0,590.0 L178.1,587.4 L176.5,584.6Z"/>
<path fill="#b3b3b3" d="M158.6,598.6 L162.1,598.0 L166.0,599.4 L169.4,597.7 L172.9,596.4 L175.8,599.0 L179.7,600.4 L181.4,604.3 L182.1,607.2 L183.1,610.1 L184.3,612.9 L181.3,614.1 L178.1,614.3 L175.3,616.5 L172.3,617.5 L168.9,616.9 L165.7,617.0 L162.6,614.8 L158.7,613.9 L155.7,611.4 L156.2,608.2 L155.7,604.7 L157.1,601.6Z"/>
<path fill="#b3b3b3" d="M208.6,590.0 L212.4,590.6 L215.7,588.6 L217.0,591.8 L220.3,592.5 L222.6,594.6 L225.4,595.9 L227.1,598.6 L215.7,598.6 L212.3,596.6 L210.8,593.0Z"/>
<path fill="#cdba56" d="M207.1,611.4 L210.4,611.8 L213.4,609.6 L216.6,608.5 L220.0,610.0 L223.2,611.0 L226.1,613.2 L229.7,613.0 L232.9,614.3 L234.3,617.0 L208.6,617.0Z"/>
<path fill="#00d8d8" d="M215.7,565.7 L218.6,563.3 L220.6,560.4 L220.7,556.4 L223.5,553.6 L227.9,553.0 L230.0,549.3 L233.8,547.5 L237.1,545.0 L240.2,547.4 L243.6,549.3 L243.6,575.0 L232.9,575.0 L230.3,578.1 L230.0,582.1 L227.0,581.6 L224.8,578.7 L221.4,579.3 L220.7,575.5 L217.9,572.9 L217.9,569.0Z"/>
<path fill="#8ad81f" d="M218.6,565.7 L221.3,562.2 L222.1,557.9 L225.1,556.1 L227.6,553.8 L230.0,551.4 L233.1,548.6 L237.1,547.1 L239.3,550.2 L242.9,551.4 L242.9,574.3 L232.9,574.3 L230.2,576.6 L229.3,580.0 L225.7,578.9 L222.1,577.9 L220.7,575.0 L219.3,572.1 L218.2,569.0Z"/>
<path fill="#9b63ee" d="M222.9,570.0 L226.5,570.0 L229.7,568.8 L232.9,567.1 L237.2,565.8 L238.6,561.4 L242.1,564.3 L240.4,567.5 L241.5,570.9 L241.4,574.3 L232.9,574.3 L229.8,575.4 L227.1,577.1 L222.1,574.3Z"/>
<path fill="#00d8d8" d="M230.0,575.7 L233.0,575.2 L235.6,573.4 L238.4,572.3 L241.2,571.2 L244.8,572.4 L247.1,570.0 L248.5,573.7 L249.8,577.4 L248.6,581.4 L247.3,584.4 L247.1,587.9 L244.3,590.0 L243.9,594.1 L246.5,597.5 L247.1,601.4 L247.9,605.0 L250.2,607.7 L252.9,610.0 L255.8,612.2 L257.7,615.7 L261.4,617.0 L237.1,617.0 L234.8,614.3 L235.1,610.6 L232.5,607.9 L232.9,604.3 L231.1,600.9 L230.9,597.2 L231.7,593.4 L230.0,590.0Z"/>
<path fill="#8ad81f" d="M234.3,581.4 L237.5,580.1 L240.9,579.4 L244.3,578.6 L243.1,582.3 L243.9,586.3 L242.9,590.0 L243.8,593.8 L243.2,597.7 L244.3,601.4 L246.6,604.5 L248.1,608.1 L250.0,611.4 L250.4,614.7 L252.9,617.0 L241.4,617.0 L240.6,613.7 L238.1,611.0 L237.1,607.8 L237.1,604.3 L235.1,600.7 L234.8,596.8 L234.3,592.9Z"/>
<path fill="#9b63ee" d="M235.7,577.1 L241.4,575.7 L240.5,579.5 L239.7,583.2 L240.0,587.1 L235.7,588.6Z"/>
<path fill="#9b63ee" d="M240.0,611.4 L250.0,611.4 L251.3,614.3 L252.9,617.0 L241.4,617.0Z"/>
<path fill="#00d8d8" d="M244.3,552.9 L250.0,552.9 L249.8,556.7 L250.0,560.6 L248.6,564.3 L244.3,564.3Z"/>
<path fill="#b3b3b3" d="M310.0,490.0 L318.6,490.0 L321.8,491.6 L324.3,494.3 L327.8,495.3 L331.4,496.0 L334.3,498.6 L336.6,501.1 L337.9,504.3 L337.9,532.9 L334.3,533.2 L330.6,533.3 L327.1,534.3 L324.6,536.2 L324.1,539.6 L321.4,541.4 L321.4,530.0 L325.0,528.2 L327.0,525.3 L329.3,522.5 L330.0,518.6 L328.3,514.6 L324.3,512.9 L322.7,515.5 L319.1,516.5 L318.6,520.0 L314.4,521.1 L310.0,521.4Z"/>
<path fill="#b3b3b3" d="M342.9,498.6 L346.5,500.7 L350.5,499.2 L354.3,500.0 L353.6,504.0 L350.0,505.7 L347.4,503.7 L344.3,502.9Z"/>
<path fill="#b3b3b3" d="M310.0,554.3 L337.9,554.3 L338.4,557.9 L337.1,561.4 L334.2,563.2 L331.3,564.3 L328.1,564.6 L325.0,565.2 L321.8,564.4 L318.6,564.3 L315.4,562.3 L312.9,559.5 L310.0,557.1Z"/>
<path fill="#b3b3b3" d="M342.1,555.7 L343.0,559.6 L345.7,562.0 L348.6,564.3 L348.4,567.5 L349.2,570.6 L349.2,573.8 L350.4,576.8 L350.3,580.0 L347.1,578.6 L346.3,574.7 L344.0,571.2 L344.3,567.1 L341.7,564.3 L341.4,560.0Z"/>
<path fill="#b3b3b3" d="M378.6,617.0 L376.7,614.0 L376.3,610.8 L378.1,607.4 L377.1,604.3 L379.6,601.1 L379.2,597.1 L381.0,593.8 L381.4,590.0 L384.0,587.7 L384.3,584.3 L386.7,586.6 L389.6,587.5 L392.3,589.0 L395.7,588.6 L393.0,591.6 L392.9,595.7 L390.8,598.2 L391.0,601.4 L390.0,604.3 L387.9,607.2 L388.0,610.5 L388.9,614.1 L387.1,617.0Z"/>
<path fill="#4d4d4d" d="M382.9,604.3 L385.7,602.9 L387.5,606.0 L387.3,609.4 L387.1,612.9 L383.6,614.3 L382.0,611.1 L383.3,607.6Z"/>
<path fill="#b3b3b3" d="M410.0,617.0 L412.5,615.1 L414.6,612.8 L414.9,609.3 L417.1,607.1 L418.0,603.8 L419.4,600.6 L420.0,597.1 L422.9,594.0 L424.3,590.0 L426.7,587.7 L428.6,585.0 L432.4,586.4 L435.7,588.6 L438.4,585.0 L442.9,584.3 L444.3,579.3 L447.1,584.3 L451.3,584.8 L455.4,585.7 L459.8,584.8 L464.3,584.3 L468.3,585.6 L471.4,582.9 L472.4,578.6 L475.7,575.7 L478.4,574.3 L481.1,572.9 L484.3,572.9 L487.7,571.6 L490.4,568.8 L494.3,568.6 L496.7,566.7 L499.5,565.4 L501.4,562.9 L504.4,561.1 L505.8,557.7 L508.6,555.7 L511.4,554.4 L513.6,552.1 L516.2,550.4 L519.1,549.2 L521.4,547.1 L524.0,545.0 L526.1,542.4 L528.5,540.2 L530.0,537.1 L531.9,533.6 L535.2,531.7 L538.6,530.0 L541.3,528.7 L544.7,528.8 L547.2,526.9 L550.0,525.7 L552.7,523.6 L555.6,521.8 L558.6,520.0 L561.5,518.4 L564.6,517.7 L568.1,518.8 L571.2,518.2 L574.3,517.1 L577.4,514.1 L578.6,510.0 L582.2,508.2 L586.0,507.5 L590.0,507.1 L593.6,507.3 L595.8,504.4 L598.9,503.5 L601.4,501.4 L604.9,500.5 L607.2,497.7 L610.0,495.7 L610.0,617.0Z"/>
<path fill="#4d4d4d" d="M428.6,598.6 L430.8,596.0 L434.3,595.7 L436.4,598.6 L437.4,602.1 L438.9,605.3 L440.3,608.6 L437.1,609.7 L436.3,606.0 L433.8,603.4 L430.8,601.3Z"/>
<path fill="#b3b3b3" d="M590.0,508.6 L593.7,507.6 L595.7,504.3 L598.3,502.0 L602.1,501.5 L604.3,498.6 L605.3,495.3 L608.6,494.3 L610.9,491.9 L611.4,488.6 L613.7,491.0 L616.6,493.0 L618.6,495.7 L622.3,497.1 L626.1,497.6 L630.0,497.1 L647.1,497.1 L650.0,492.9 L653.5,493.9 L656.9,492.8 L660.3,491.9 L663.8,492.9 L667.1,491.4 L669.5,488.0 L672.9,485.7 L674.4,482.2 L675.7,478.6 L679.2,479.9 L681.4,482.9 L684.2,484.1 L686.8,485.8 L690.0,485.7 L694.3,482.9 L696.0,486.5 L695.8,490.4 L695.7,494.3 L698.7,493.7 L701.0,491.0 L704.3,491.4 L708.6,488.6 L711.5,489.8 L714.3,491.4 L717.7,493.2 L721.4,494.3 L724.3,495.7 L726.8,497.7 L730.0,498.6 L732.2,495.7 L736.5,495.9 L738.6,492.9 L741.8,493.2 L744.5,494.7 L747.1,496.4 L751.4,498.6 L754.2,495.8 L754.2,492.2 L754.3,488.6 L757.7,489.4 L761.2,489.7 L764.3,491.4 L768.4,490.9 L770.8,487.4 L774.3,485.7 L777.5,485.0 L780.0,482.9 L779.9,487.1 L782.9,490.0 L785.9,492.2 L789.3,493.3 L792.9,494.3 L796.1,494.2 L798.3,497.0 L801.4,497.1 L804.3,494.3 L810.0,492.9 L812.1,490.4 L811.3,486.9 L812.9,484.3 L818.6,485.7 L816.6,489.8 L817.1,494.3 L819.4,496.3 L821.4,498.7 L824.3,500.0 L828.7,499.9 L832.9,501.4 L836.0,502.3 L838.6,504.2 L841.4,505.7 L843.9,508.4 L847.1,510.0 L851.4,512.9 L855.0,512.3 L858.6,511.4 L862.1,512.3 L864.7,515.6 L868.6,515.7 L872.1,517.5 L873.7,520.5 L874.3,524.3 L873.1,527.6 L870.0,529.7 L868.6,532.9 L867.8,536.0 L865.5,538.4 L864.3,541.4 L866.9,543.3 L870.0,544.3 L873.9,544.2 L877.7,543.8 L881.4,542.9 L884.3,541.5 L887.5,540.8 L890.0,538.6 L890.0,597.0 L590.0,597.0Z"/>
<path fill="#4d4d4d" d="M835.7,515.7 L842.9,515.7 L842.9,527.1 L835.7,527.1Z"/>
<path fill="#4d4d4d" d="M854.3,518.6 L857.1,518.6 L857.1,524.3 L854.3,524.3Z"/>
<path fill="#4d4d4d" d="M860.0,555.7 L863.2,553.7 L865.9,550.5 L870.0,550.0 L881.4,550.0 L879.6,552.7 L878.6,555.7 L875.5,556.3 L873.3,559.1 L870.0,559.3 L860.0,559.3Z"/>
<path fill="#4d4d4d" d="M847.1,547.9 L850.9,548.1 L854.3,546.4 L854.3,550.0 L850.9,551.8 L847.1,550.7Z"/>
<path fill="#4d4d4d" d="M675.7,515.0 L680.7,515.0 L680.7,518.6 L675.7,518.6Z"/>
<path fill="#4d4d4d" d="M602.9,501.4 L605.2,499.0 L608.6,498.6 L608.6,507.1 L602.9,507.9Z"/>
<path fill="#4d4d4d" d="M765.7,495.7 L768.9,493.8 L772.2,492.5 L775.7,491.4 L780.0,492.9 L777.4,496.1 L774.3,498.3 L770.0,498.6Z"/>
<path fill="#b3b3b3" d="M835.7,480.0 L842.1,480.0 L839.3,485.0 L837.2,482.7Z"/>
<path fill="#b3b3b3" d="M890.0,486.9 L1017.1,486.9 L1017.1,597.0 L890.0,597.0Z"/>
<path fill="#4d4d4d" d="M890.0,486.9 L928.6,486.9 L927.1,489.8 L924.3,491.4 L926.2,494.8 L927.1,498.6 L926.1,502.8 L922.9,505.7 L920.2,508.7 L917.1,511.4 L914.5,514.7 L912.9,518.6 L910.4,521.2 L908.6,524.3 L905.7,525.6 L902.9,527.1 L899.5,529.2 L895.7,530.0 L895.2,533.5 L893.3,535.9 L890.0,537.1Z"/>
<path fill="#4d4d4d" d="M860.0,545.0 L863.1,545.5 L866.2,546.2 L869.2,543.9 L872.1,542.6 L875.3,544.4 L878.4,543.8 L881.4,543.6 L883.6,546.4 L883.6,550.1 L881.7,552.6 L878.6,554.3 L876.8,556.9 L874.3,558.9 L870.8,559.9 L867.0,557.7 L863.4,558.7 L860.0,560.3Z"/>
<path fill="#dd7b1a" d="M975.7,584.3 L978.7,583.2 L981.4,581.4 L983.5,583.9 L983.7,587.1 L982.3,592.9 L978.6,595.7 L972.9,594.6 L973.9,591.2 L973.8,587.4Z"/>
<path fill="#00ffff" d="M964.3,594.6 L967.3,592.9 L970.5,592.2 L974.0,592.4 L977.1,591.4 L978.0,597.0 L963.6,597.0Z"/>
<path fill="#d800d8" d="M968.9,548.3 L972.1,550.0 L971.4,552.6 L969.3,551.4Z"/>
<path fill="#b3b3b3" d="M100.0,590.0 L400.0,590.0 L400.0,690.0 L100.0,690.0Z"/>
<path fill="#4d4d4d" d="M257.1,590.0 L341.4,590.0 L341.4,632.9 L338.5,634.8 L335.3,635.9 L331.7,635.9 L328.6,637.1 L327.7,633.9 L326.0,631.4 L322.9,630.0 L318.6,631.0 L314.3,631.4 L312.2,628.3 L308.8,626.3 L307.1,622.9 L303.8,621.5 L301.3,618.2 L297.1,618.6 L295.1,615.3 L291.6,612.9 L291.4,608.6 L288.3,606.0 L285.7,602.9 L281.9,602.4 L278.6,604.3 L275.0,602.8 L271.4,601.3 L268.6,598.6 L264.9,598.4 L261.4,597.1 L259.4,593.5Z"/>
<path fill="#4d4d4d" d="M341.4,590.0 L382.9,590.0 L382.0,593.8 L379.9,597.3 L380.0,601.4 L378.6,604.6 L376.2,606.8 L373.5,608.8 L371.4,611.4 L370.9,615.1 L370.4,618.9 L368.2,622.2 L367.1,625.7 L366.2,629.5 L364.8,633.2 L364.3,637.1 L361.4,639.1 L359.0,641.4 L357.1,644.3 L355.7,640.9 L352.5,639.4 L350.0,637.1 L346.8,634.3 L342.9,632.9 L342.6,629.8 L341.3,626.8 L342.5,623.7 L342.8,620.6 L341.1,617.6 L342.3,614.5 L340.8,611.5 L342.3,608.4 L341.7,605.3 L342.7,602.2 L342.3,599.2 L341.6,596.1 L341.9,593.0Z"/>
<path fill="#4d4d4d" d="M384.3,604.3 L388.6,607.1 L388.3,611.0 L387.3,614.7 L387.1,618.6 L385.2,616.2 L382.9,614.3 L382.1,610.8 L385.3,607.8Z"/>
<path fill="#b3b3b3" d="M375.7,600.0 L380.0,602.9 L380.0,606.0 L379.2,609.1 L379.0,612.3 L378.0,615.3 L378.6,618.6 L374.3,615.7 L374.4,612.6 L373.6,609.3 L373.5,606.1 L373.7,603.0Z"/>
<path fill="#4d4d4d" d="M187.1,615.7 L192.9,615.7 L193.6,620.7 L188.6,620.0Z"/>
<path fill="#4d4d4d" d="M144.3,604.3 L148.6,604.3 L148.6,608.6 L144.3,608.6Z"/>
<path fill="#4d4d4d" d="M310.0,630.0 L315.7,628.6 L317.1,632.9 L311.4,634.3Z"/>
<path fill="#00d8d8" d="M247.1,598.6 L250.5,600.4 L254.4,601.4 L257.1,604.3 L260.4,605.9 L261.8,610.0 L264.9,611.8 L268.6,612.9 L272.1,612.9 L274.0,616.3 L277.4,616.6 L280.0,618.6 L282.9,619.9 L286.5,619.9 L289.2,621.7 L291.4,624.3 L293.0,627.0 L296.0,628.3 L299.1,629.5 L300.0,632.9 L302.8,635.3 L304.9,638.5 L307.1,641.4 L308.4,645.1 L311.2,647.8 L313.6,650.7 L314.3,653.9 L314.3,657.1 L313.8,660.6 L313.6,664.2 L311.4,667.1 L310.9,670.4 L310.0,673.6 L307.1,675.7 L305.7,679.1 L302.8,680.9 L300.0,682.9 L297.1,678.6 L298.9,675.7 L300.2,672.6 L301.3,669.4 L302.5,666.2 L305.7,664.3 L305.7,650.0 L303.3,647.3 L301.7,644.1 L299.8,641.0 L297.1,638.6 L295.1,636.3 L292.9,634.2 L290.8,631.9 L288.1,630.5 L285.7,628.6 L282.6,626.0 L278.3,627.2 L275.0,625.2 L271.4,624.3 L268.5,622.7 L265.6,621.1 L262.8,619.3 L259.0,619.0 L257.1,615.7 L254.9,612.6 L251.6,610.7 L248.6,608.6 L249.3,605.1 L248.7,601.7Z"/>
<path fill="#8ad81f" d="M248.6,601.4 L251.7,603.0 L254.2,605.4 L257.1,607.1 L261.0,608.0 L262.7,611.6 L266.2,613.0 L268.6,615.7 L271.7,616.4 L274.7,617.3 L277.7,618.3 L280.0,620.7 L282.7,622.4 L285.7,623.6 L289.3,623.6 L291.4,626.4 L292.8,630.4 L296.6,632.2 L299.3,635.0 L300.6,638.3 L303.3,640.5 L305.7,642.9 L308.2,644.9 L310.2,647.2 L311.0,650.4 L312.9,652.9 L312.8,656.2 L312.2,659.4 L312.9,663.0 L310.0,665.7 L307.9,669.3 L305.7,672.9 L302.9,670.0 L302.7,666.1 L304.0,662.6 L305.1,659.0 L307.1,655.7 L304.9,653.3 L303.6,650.3 L304.0,646.6 L301.7,644.1 L300.0,641.4 L297.7,639.4 L296.9,636.1 L294.6,634.1 L292.2,632.1 L290.0,630.0 L287.3,628.3 L284.9,626.0 L281.5,625.5 L278.6,624.3 L275.7,623.1 L272.9,622.0 L270.2,620.4 L267.1,619.9 L264.3,618.6 L261.3,617.5 L258.6,616.0 L256.4,613.7 L254.4,611.1 L251.4,610.0 L252.5,606.5 L250.2,604.1Z"/>
<path fill="#9b63ee" d="M237.1,608.6 L239.5,610.6 L241.3,613.2 L244.3,614.3 L247.8,613.5 L251.4,612.9 L253.9,616.2 L257.8,617.2 L261.4,618.6 L264.5,620.7 L267.8,622.2 L271.4,622.9 L280.0,622.9 L283.7,624.2 L286.1,627.7 L290.0,628.6 L292.3,631.5 L294.4,634.6 L297.1,637.1 L299.5,639.1 L300.7,642.1 L302.9,644.3 L305.3,646.8 L306.5,650.1 L308.6,652.9 L309.2,656.6 L307.8,660.7 L310.0,664.3 L310.1,667.9 L307.3,670.1 L305.7,672.9 L302.6,674.9 L302.6,679.0 L300.0,681.4 L298.6,686.4 L295.6,685.4 L292.5,684.8 L290.2,682.4 L286.9,682.0 L284.0,681.0 L280.8,680.6 L277.9,679.3 L275.2,677.8 L272.7,675.8 L269.7,674.8 L267.1,672.9 L264.2,671.8 L261.6,670.1 L258.4,669.6 L256.3,666.7 L253.1,666.2 L250.1,665.4 L247.9,662.8 L243.9,664.2 L241.4,662.2 L238.1,662.1 L235.7,659.9 L232.9,658.6 L230.0,657.4 L229.1,654.1 L230.1,651.1 L230.4,648.0 L231.8,645.0 L230.7,641.7 L231.7,638.7 L232.9,635.7 L234.7,633.3 L235.3,630.2 L237.6,628.0 L237.5,624.5 L238.8,621.8 L241.7,619.9 L242.9,617.1 L241.6,613.8 L239.1,611.4Z"/>
<path fill="#cdba56" d="M230.0,657.4 L231.9,653.6 L234.3,650.0 L237.3,649.6 L239.8,647.5 L242.9,647.1 L247.1,645.9 L251.4,645.7 L254.2,644.6 L257.1,643.6 L260.0,642.9 L262.1,640.7 L264.4,638.5 L265.7,635.7 L268.0,633.7 L270.6,632.0 L272.9,630.0 L277.2,629.5 L281.4,628.6 L284.4,629.2 L286.7,631.8 L290.0,631.4 L291.9,634.3 L294.1,636.9 L295.7,640.0 L294.1,644.1 L290.0,645.7 L287.7,647.7 L285.1,649.4 L282.9,651.4 L278.5,651.9 L274.3,652.9 L272.9,656.1 L270.6,658.6 L268.6,661.4 L267.7,665.0 L265.4,668.2 L266.4,672.1 L263.9,670.3 L261.4,668.4 L258.2,668.2 L255.0,668.3 L252.0,667.4 L249.3,666.1 L246.3,665.4 L243.7,663.9 L240.6,663.4 L238.1,661.5 L236.1,658.5 L233.0,658.1Z"/>
<path fill="#cdba56" d="M235.0,622.9 L237.2,620.5 L239.3,618.1 L242.9,617.9 L242.0,621.2 L243.2,624.1 L244.3,627.1 L242.6,630.0 L239.5,630.9 L237.1,632.9 L236.6,629.5 L236.9,625.9Z"/>
<path fill="#ac972b" d="M274.3,634.3 L285.7,634.3 L283.8,638.4 L284.3,642.9 L275.7,642.9 L276.1,638.4Z"/>
<path fill="#ac972b" d="M251.4,650.0 L255.2,649.6 L258.6,651.4 L257.1,655.7 L252.1,655.0Z"/>
<path fill="#8ad81f" d="M251.4,624.3 L255.2,623.2 L258.8,621.7 L261.4,618.6 L270.0,618.6 L268.0,621.9 L267.1,625.7 L263.6,626.0 L260.7,628.5 L257.1,628.6 L254.6,626.0Z"/>
<path fill="#8ad81f" d="M242.9,634.3 L246.3,636.1 L250.0,637.1 L247.1,641.4 L242.1,639.3Z"/>
<path fill="#8ad81f" d="M300.0,650.0 L303.1,647.3 L307.1,647.1 L308.2,650.9 L309.9,654.5 L308.6,658.6 L302.9,660.0 L302.0,656.6 L301.3,653.2Z"/>
<path fill="#00d8d8" d="M138.6,590.0 L155.7,590.0 L153.7,594.1 L154.3,598.6 L150.5,599.5 L147.1,601.4 L144.6,598.9 L141.4,597.1 L139.5,593.8Z"/>
<path fill="#00d8d8" d="M180.0,592.9 L183.5,593.6 L186.6,591.3 L190.2,592.6 L193.4,591.6 L196.7,590.4 L200.0,590.0 L203.3,590.6 L206.3,592.4 L209.5,593.8 L213.2,592.7 L216.4,593.6 L219.3,595.9 L222.9,595.7 L224.5,598.5 L225.0,601.8 L226.8,604.4 L228.6,607.1 L225.9,608.8 L222.5,608.2 L220.2,610.8 L217.1,611.4 L213.7,611.2 L210.2,611.0 L206.8,610.1 L203.3,609.9 L200.0,608.6 L196.1,608.5 L192.8,606.6 L189.2,605.5 L185.7,604.3 L185.0,601.1 L182.5,598.8 L183.0,594.9Z"/>
<path fill="#8ad81f" d="M188.6,598.6 L192.0,598.3 L194.1,595.4 L197.0,593.9 L200.0,592.9 L202.8,595.1 L206.3,596.4 L208.2,599.8 L211.4,601.4 L214.1,604.1 L216.9,606.4 L220.0,608.6 L216.3,609.5 L214.3,612.9 L211.4,611.4 L207.8,611.6 L205.0,609.9 L202.9,607.1 L199.6,607.3 L197.3,604.9 L194.3,604.3 L192.0,600.8Z"/>
<path fill="#9b63ee" d="M200.0,590.0 L208.6,590.0 L210.5,592.9 L212.3,595.8 L214.3,598.6 L217.8,599.9 L220.9,601.6 L222.9,605.0 L225.7,607.1 L228.9,608.0 L230.0,611.5 L232.9,612.9 L229.0,612.1 L225.7,614.3 L223.5,611.5 L220.8,609.4 L217.5,608.4 L214.3,607.1 L212.8,603.8 L209.1,603.1 L207.4,600.0 L204.3,598.6 L202.8,595.8 L202.5,592.3Z"/>
<path fill="#cdba56" d="M207.1,611.4 L210.5,611.1 L214.0,611.5 L217.1,610.0 L220.6,610.1 L223.7,611.2 L225.7,614.3 L229.1,612.8 L232.9,612.9 L234.8,616.0 L237.4,618.6 L236.6,621.8 L233.9,624.0 L232.9,627.1 L229.3,626.6 L225.7,625.7 L223.1,624.1 L221.1,621.7 L218.6,620.0 L214.2,620.5 L211.4,617.1 L208.4,615.0Z"/>
<path fill="#ac972b" d="M221.4,617.1 L228.6,617.1 L228.6,622.9 L222.9,622.9Z"/>
<path fill="#00d8d8" d="M194.3,627.1 L198.5,625.9 L202.9,625.7 L203.9,628.7 L203.8,631.7 L203.2,634.8 L204.5,637.8 L203.5,640.9 L203.3,644.0 L204.2,647.0 L204.3,650.0 L198.6,651.4 L197.3,648.3 L197.1,645.0 L197.4,641.6 L195.7,638.6 L196.3,634.6 L195.4,630.9Z"/>
<path fill="#cdba56" d="M202.9,632.9 L206.4,632.9 L208.6,630.0 L212.1,629.2 L215.3,630.7 L218.6,631.4 L221.4,632.7 L222.5,636.2 L225.7,637.1 L226.6,640.9 L228.6,644.3 L230.7,647.2 L232.9,650.0 L228.6,653.1 L224.7,653.0 L221.0,654.1 L217.1,653.6 L213.5,654.6 L210.5,652.0 L207.1,651.7 L205.9,647.5 L202.9,644.3Z"/>
<path fill="#9b63ee" d="M211.4,635.7 L214.7,638.0 L218.6,637.1 L221.1,639.0 L223.2,641.3 L224.3,644.3 L225.2,647.6 L228.6,648.6 L225.3,650.7 L221.4,650.0 L217.7,648.1 L214.3,645.7 L213.2,642.4 L212.0,639.2Z"/>
<path fill="#8ad81f" d="M214.3,632.9 L220.0,634.3 L221.4,638.6 L215.7,637.1Z"/>
<path fill="#9b63ee" d="M205.7,615.7 L208.7,616.2 L212.1,615.6 L214.3,618.6 L217.8,619.3 L219.6,621.8 L221.3,624.4 L222.9,627.1 L224.9,630.8 L228.6,632.9 L224.3,634.3 L221.9,632.4 L219.8,630.0 L215.8,630.3 L214.3,627.1 L211.7,625.5 L209.5,623.4 L207.1,621.4Z"/>
<path fill="#d800d8" d="M118.6,598.6 L121.6,600.5 L125.6,599.3 L128.6,601.4 L131.5,603.4 L133.4,606.7 L137.3,607.2 L139.6,610.0 L142.9,611.4 L146.5,613.6 L150.3,613.6 L154.3,612.9 L156.0,616.3 L157.1,620.0 L154.0,618.3 L150.5,618.6 L147.1,618.6 L144.2,617.3 L140.6,617.3 L138.6,614.3 L135.5,613.6 L132.4,613.2 L129.3,612.7 L126.4,611.0 L123.2,611.0 L120.0,611.4 L119.6,608.2 L121.4,604.8 L119.3,601.7Z"/>
<path fill="#60c060" d="M120.0,595.7 L125.7,597.1 L127.3,600.3 L125.4,604.0 L127.1,607.1 L121.4,608.6 L121.2,605.3 L120.8,602.1 L119.7,599.0Z"/>
<path fill="#ee9034" d="M154.3,610.0 L157.4,611.0 L160.6,611.7 L164.0,610.7 L167.1,611.4 L168.9,615.1 L172.3,616.9 L175.7,618.6 L177.8,621.2 L180.6,623.0 L182.4,625.9 L185.7,627.1 L188.6,630.0 L191.4,632.9 L191.6,636.7 L193.3,640.4 L192.9,644.3 L193.3,647.6 L195.2,650.7 L194.3,654.3 L190.1,655.1 L186.4,657.1 L185.5,652.8 L184.3,648.6 L183.8,644.8 L181.2,642.0 L180.0,638.6 L176.4,637.1 L174.9,633.0 L171.4,631.4 L169.1,628.4 L165.4,627.0 L162.9,624.3 L159.0,622.4 L157.1,618.6 L156.4,615.7 L154.6,613.1Z"/>
<path fill="#dd7b1a" d="M157.1,614.3 L160.2,616.7 L163.8,615.1 L167.1,615.7 L170.0,617.0 L171.9,619.6 L174.3,621.4 L171.8,623.6 L168.6,624.3 L165.6,621.3 L161.4,620.7 L160.1,617.0Z"/>
<path fill="#b3b3b3" d="M134.3,601.4 L137.6,601.9 L140.9,602.7 L144.3,602.4 L147.7,601.3 L151.0,601.9 L154.3,602.9 L158.3,604.5 L160.0,608.6 L154.3,610.0 L150.7,608.0 L146.9,607.2 L142.9,608.6 L139.5,606.6 L135.7,605.7Z"/>
<path fill="#b3b3b3" d="M160.0,598.6 L163.2,597.0 L166.6,596.8 L169.9,596.6 L173.2,595.9 L176.6,595.8 L180.0,595.7 L180.8,599.3 L183.8,601.4 L185.7,604.3 L187.1,607.9 L190.3,610.5 L191.4,614.3 L187.6,614.3 L183.7,614.3 L180.0,615.7 L176.5,615.5 L174.3,612.9 L171.5,611.3 L168.6,610.0 L165.0,607.8 L161.4,605.7 L161.9,601.9Z"/>
<path fill="#00d8d8" d="M174.3,621.4 L178.0,620.1 L182.1,620.5 L185.7,618.6 L187.1,622.9 L184.2,625.2 L180.5,624.9 L177.1,625.7Z"/>
<path fill="#b3b3b3" d="M380.0,590.0 L680.0,590.0 L680.0,717.0 L380.0,717.0Z"/>
<path fill="#4d4d4d" d="M390.0,590.0 L422.9,590.0 L422.4,593.8 L422.0,597.5 L419.6,600.7 L418.6,604.3 L415.8,606.5 L414.2,609.5 L412.3,612.3 L411.4,615.7 L410.1,619.4 L406.9,622.0 L405.7,625.7 L402.8,623.9 L399.6,622.3 L398.6,618.6 L397.0,615.5 L394.0,613.4 L392.9,610.0 L392.6,606.9 L391.0,604.3 L390.0,601.4Z"/>
<path fill="#4d4d4d" d="M381.4,602.9 L385.7,601.4 L386.9,604.7 L387.1,608.0 L387.1,611.4 L382.9,614.3 L382.7,610.4 L382.2,606.6Z"/>
<path fill="#4d4d4d" d="M401.4,637.1 L407.1,637.1 L407.3,640.9 L409.0,644.0 L410.7,647.1 L409.8,651.5 L408.6,655.7 L404.3,657.1 L403.5,653.8 L405.1,650.2 L402.9,647.1 L403.1,643.7 L401.7,640.5Z"/>
<path fill="#4d4d4d" d="M430.0,594.3 L435.7,595.7 L436.1,598.8 L436.7,601.9 L438.6,604.4 L440.0,607.1 L437.1,608.6 L435.2,606.0 L432.4,603.8 L432.9,600.0 L432.2,596.8Z"/>
<path fill="#4d4d4d" d="M458.3,615.7 L462.6,615.0 L462.7,618.6 L461.9,622.1 L462.1,625.7 L458.6,625.7 L458.5,622.4 L458.4,619.0Z"/>
<path fill="#8ad81f" d="M558.6,647.1 L561.7,645.5 L564.4,642.9 L567.9,642.0 L571.4,641.4 L575.8,641.5 L580.0,642.9 L581.7,645.4 L582.4,648.8 L585.7,650.0 L588.6,652.3 L591.5,654.6 L594.3,657.1 L596.4,660.0 L599.9,660.3 L602.9,661.4 L604.7,657.9 L609.1,657.9 L612.2,656.1 L614.3,652.9 L615.4,655.7 L615.2,658.9 L617.1,661.4 L620.6,661.7 L622.9,664.3 L623.3,660.4 L626.9,658.6 L626.9,650.0 L680.0,650.0 L680.0,717.0 L457.1,717.0 L457.1,697.1 L461.1,697.7 L464.4,700.6 L468.6,700.0 L471.0,702.2 L474.4,701.7 L476.7,704.4 L480.0,704.3 L483.6,705.2 L487.3,706.0 L490.7,707.4 L494.3,708.6 L497.8,709.7 L501.2,711.2 L504.9,711.3 L508.6,711.4 L512.1,710.3 L515.8,709.5 L518.8,706.7 L522.9,707.1 L525.6,705.2 L526.9,702.4 L528.3,699.6 L529.8,696.9 L531.4,694.3 L534.0,692.6 L536.7,691.1 L538.7,688.6 L541.4,687.1 L543.5,684.8 L545.7,682.5 L548.0,680.5 L551.4,680.0 L553.6,677.1 L556.5,675.2 L560.0,674.3 L559.9,671.0 L561.1,667.9 L561.0,664.6 L561.4,661.4 L560.7,657.9 L560.7,654.2 L559.5,650.7Z"/>
<path fill="#b3b3b3" d="M641.4,651.4 L644.7,653.2 L648.3,652.2 L651.7,652.1 L655.2,652.5 L658.6,652.9 L660.0,658.6 L658.5,661.7 L655.2,663.6 L654.3,667.1 L650.3,665.9 L647.1,668.6 L645.7,664.6 L642.9,661.4 L641.2,658.3 L641.5,654.8Z"/>
<path fill="#67b10f" d="M564.3,647.1 L567.8,646.9 L570.7,644.5 L574.3,644.3 L576.9,647.4 L577.1,651.4 L574.4,654.2 L570.7,654.7 L567.1,655.7 L566.4,652.8 L563.5,650.6Z"/>
<path fill="#67b10f" d="M548.6,690.0 L551.5,688.4 L554.0,685.9 L557.4,685.0 L560.0,682.9 L564.4,682.9 L568.6,681.4 L570.5,684.8 L574.2,685.8 L577.9,686.8 L580.0,690.0 L583.5,688.7 L587.4,690.0 L590.9,688.6 L594.3,687.1 L597.9,687.4 L601.4,688.0 L605.0,688.5 L608.6,688.6 L612.3,687.7 L615.8,688.1 L619.2,690.8 L622.9,690.0 L626.4,688.9 L628.6,691.9 L631.4,692.9 L631.7,696.8 L634.5,700.2 L634.3,704.3 L633.5,707.4 L633.2,710.6 L633.3,713.8 L632.9,717.0 L537.1,717.0 L537.1,704.3 L539.2,702.0 L541.4,699.9 L544.3,698.6 L545.6,695.7 L548.3,693.4Z"/>
<path fill="#67b10f" d="M465.7,717.0 L466.3,713.4 L469.8,711.2 L469.5,707.2 L471.4,704.3 L475.2,705.2 L479.0,705.7 L482.9,705.7 L484.5,708.9 L487.8,710.9 L490.1,713.6 L491.4,717.0Z"/>
<path fill="#67b10f" d="M637.1,690.0 L640.0,688.6 L641.9,686.1 L643.8,683.8 L645.7,681.4 L648.4,683.7 L649.6,687.1 L651.4,690.0 L653.3,693.3 L656.9,693.8 L660.2,694.9 L662.4,697.7 L665.7,698.6 L668.9,701.1 L672.8,700.3 L676.6,699.9 L680.0,701.4 L680.0,717.0 L635.7,717.0 L636.2,714.0 L635.8,711.0 L634.7,707.9 L635.6,705.0 L635.0,701.9 L635.0,698.9 L636.5,696.0 L636.2,693.0Z"/>
<path fill="#9b63ee" d="M541.4,702.9 L545.0,704.0 L548.3,702.2 L551.7,702.4 L555.2,702.0 L558.6,701.4 L561.5,699.4 L565.1,700.2 L568.1,698.6 L571.4,698.6 L574.5,699.3 L577.8,699.5 L580.9,700.1 L584.1,700.4 L587.1,701.4 L589.7,698.7 L593.4,698.6 L596.5,697.0 L599.7,695.6 L602.9,694.3 L605.8,695.1 L608.4,696.8 L611.1,698.3 L614.3,698.6 L618.2,698.9 L620.0,702.4 L622.9,704.3 L623.9,708.0 L626.7,710.0 L630.0,711.4 L631.4,717.0 L544.3,717.0 L544.2,713.4 L542.9,710.0 L540.4,706.8Z"/>
<path fill="#9b63ee" d="M468.6,717.0 L471.5,716.1 L474.3,715.0 L477.5,714.9 L480.0,712.9 L482.5,714.9 L485.7,714.9 L488.1,717.1 L491.4,717.0Z"/>
<path fill="#9b63ee" d="M635.7,717.0 L636.3,713.5 L637.1,710.0 L640.9,708.7 L643.1,705.5 L645.7,702.9 L657.1,702.9 L660.5,705.6 L660.0,710.0 L657.2,713.1 L655.7,717.0Z"/>
<path fill="#00b1b1" d="M670.0,624.3 L673.5,623.3 L676.4,620.7 L680.0,620.0 L680.0,637.1 L674.3,635.7 L672.6,633.0 L671.4,630.0Z"/>
<path fill="#00b1b1" d="M584.3,650.0 L586.9,651.9 L590.0,652.9 L588.6,655.7 L584.3,653.6Z"/>
<path fill="#00b1b1" d="M592.9,643.6 L596.2,643.5 L599.5,644.2 L602.9,644.3 L602.1,646.4 L597.8,647.1 L593.6,645.7Z"/>
<path fill="#00b1b1" d="M608.6,652.9 L611.0,650.6 L614.3,650.0 L612.7,653.4 L612.9,657.1 L608.6,657.1Z"/>
<path fill="#00b1b1" d="M528.6,710.0 L534.3,710.0 L533.6,713.6 L528.6,712.9Z"/>
<path fill="#adff2f" d="M597.1,660.0 L601.2,658.1 L605.7,658.6 L606.5,662.3 L608.3,666.0 L607.1,670.0 L603.2,669.5 L600.0,667.1 L597.5,664.0Z"/>
<path fill="#b3b3b3" d="M660.0,590.0 L960.0,590.0 L960.0,717.0 L660.0,717.0Z"/>
<path fill="#8ad81f" d="M660.0,651.4 L674.3,651.4 L677.8,652.4 L681.4,652.9 L684.8,654.8 L688.6,655.7 L692.7,657.6 L697.1,657.1 L700.6,658.4 L701.7,662.1 L704.3,664.3 L701.7,666.6 L698.4,667.9 L695.7,670.0 L698.0,673.4 L701.4,675.7 L699.4,678.6 L697.1,681.4 L700.4,683.5 L702.9,686.9 L707.1,687.1 L710.2,689.4 L713.7,688.8 L717.1,688.6 L721.1,687.9 L724.8,689.4 L728.6,690.0 L735.7,690.0 L738.9,691.4 L742.4,692.0 L745.7,692.9 L748.6,690.0 L751.4,687.1 L754.9,688.2 L757.3,685.7 L760.0,684.3 L763.0,685.0 L766.0,685.2 L768.6,687.1 L771.4,684.9 L774.3,682.9 L778.1,682.0 L782.0,682.7 L785.7,681.4 L789.6,681.0 L793.6,680.6 L797.1,682.9 L800.8,683.9 L802.9,687.1 L806.4,688.7 L810.0,690.0 L810.0,686.7 L811.5,684.0 L812.7,681.2 L814.3,678.6 L818.1,679.4 L821.3,678.0 L824.3,675.7 L827.9,676.1 L831.3,677.6 L834.9,678.2 L838.6,677.1 L841.8,675.0 L844.8,672.6 L848.6,671.4 L852.8,672.1 L856.6,671.0 L860.0,668.6 L863.3,668.8 L866.1,667.6 L868.4,664.8 L871.4,664.3 L875.7,667.1 L875.7,675.7 L875.2,679.0 L873.6,681.8 L871.4,684.3 L871.7,688.0 L870.0,690.7 L867.1,692.9 L867.6,697.3 L865.7,701.4 L866.1,705.2 L867.9,708.6 L867.7,713.1 L870.0,717.0 L660.0,717.0Z"/>
<path fill="#b3b3b3" d="M758.6,688.6 L768.6,688.6 L771.2,691.1 L774.3,692.9 L770.7,692.5 L767.2,694.0 L763.6,693.3 L760.0,693.6Z"/>
<path fill="#adff2f" d="M688.6,655.7 L692.6,658.1 L697.1,657.1 L699.2,659.9 L702.3,661.5 L704.3,664.3 L700.0,665.0 L695.7,665.7 L694.1,663.1 L693.8,659.5 L690.7,658.0Z"/>
<path fill="#adff2f" d="M847.1,664.3 L849.6,662.0 L852.9,661.4 L854.0,665.6 L854.3,670.0 L848.6,671.4 L846.3,668.2Z"/>
<path fill="#adff2f" d="M772.9,682.9 L776.2,683.5 L779.5,684.0 L782.5,681.4 L785.7,681.4 L786.2,684.4 L788.2,687.0 L788.6,690.0 L784.7,689.9 L780.8,689.9 L777.1,691.4 L775.8,688.5 L774.1,685.8Z"/>
<path fill="#adff2f" d="M814.3,678.6 L817.4,676.7 L820.7,676.2 L824.3,676.4 L822.7,679.4 L822.9,682.9 L819.4,684.3 L815.7,684.3Z"/>
<path fill="#67b10f" d="M660.0,695.7 L671.4,695.7 L673.8,697.7 L677.4,698.0 L678.6,701.4 L682.3,701.1 L685.2,703.4 L688.6,704.3 L691.7,704.1 L694.9,705.8 L697.8,703.4 L701.1,704.9 L704.1,703.8 L707.1,702.9 L709.8,705.2 L708.2,708.8 L710.0,711.4 L707.0,712.2 L704.3,713.8 L700.7,712.9 L698.5,715.8 L695.7,717.0 L660.0,717.0Z"/>
<path fill="#67b10f" d="M828.6,695.7 L832.6,695.6 L836.5,696.5 L840.0,698.6 L841.0,702.4 L843.6,705.3 L845.7,708.6 L842.2,709.4 L838.4,708.0 L834.9,708.3 L831.4,710.0 L831.0,706.4 L829.9,702.9 L829.9,699.2Z"/>
<path fill="#67b10f" d="M788.6,701.4 L792.0,703.0 L795.4,704.6 L799.0,705.0 L802.9,704.3 L806.1,705.4 L806.7,709.5 L810.2,710.5 L812.4,712.8 L814.9,714.8 L817.1,717.0 L788.6,717.0Z"/>
<path fill="#9b63ee" d="M678.6,704.3 L682.0,705.5 L684.9,707.9 L688.6,708.6 L691.4,710.5 L694.2,712.6 L697.1,714.3 L694.3,717.0 L678.6,717.0Z"/>
<path fill="#9b63ee" d="M862.9,704.3 L868.6,705.7 L870.7,709.3 L871.3,713.0 L870.0,717.0 L860.0,717.0 L860.9,713.9 L861.6,710.7 L861.8,707.4Z"/>
<path fill="#00b1b1" d="M671.4,622.9 L675.4,620.5 L680.0,620.7 L680.7,623.9 L678.6,626.7 L679.7,629.9 L678.6,632.9 L674.3,634.3 L670.7,630.0 L670.8,626.4Z"/>
<path fill="#00b1b1" d="M685.7,632.9 L688.7,632.3 L691.5,631.3 L694.3,630.0 L697.9,634.3 L697.9,650.0 L692.9,652.9 L689.4,651.3 L685.7,650.0Z"/>
<path fill="#00b1b1" d="M772.9,671.4 L777.1,671.4 L776.3,675.3 L778.6,678.6 L785.7,678.6 L788.6,679.3 L791.2,681.3 L794.3,681.4 L794.3,683.6 L791.0,683.6 L788.0,681.8 L784.8,681.3 L781.4,681.4 L778.4,681.0 L775.7,679.5 L772.9,678.6Z"/>
<path fill="#00b1b1" d="M821.4,672.9 L823.6,670.4 L825.7,667.9 L827.2,670.8 L828.3,674.0 L831.4,675.7 L822.9,675.7Z"/>
<path fill="#00b1b1" d="M885.7,632.1 L889.3,632.9 L888.6,637.1 L885.7,635.7Z"/>
<path fill="#00b1b1" d="M891.4,645.7 L892.7,642.7 L895.7,641.4 L897.1,647.1 L900.3,647.0 L903.0,645.6 L905.7,644.3 L908.9,641.7 L911.4,638.6 L911.0,641.9 L908.6,644.3 L906.1,646.9 L902.9,648.6 L899.7,649.5 L898.3,652.6 L895.7,654.3 L892.8,657.5 L888.6,658.6 L886.0,660.5 L883.0,661.8 L879.7,662.2 L877.0,664.1 L874.3,665.7 L870.5,666.0 L867.1,664.3 L869.4,662.2 L871.4,660.0 L874.5,659.5 L877.5,658.8 L880.6,658.5 L882.9,655.7 L884.9,652.7 L887.9,651.6 L891.4,651.4Z"/>
<path fill="#00b1b1" d="M828.6,681.4 L831.4,681.4 L834.8,683.3 L835.0,687.1 L832.1,687.9 L830.0,684.8Z"/>
<path fill="#9b63ee" d="M480.0,700.0 L541.4,700.0 L543.9,702.6 L543.0,706.4 L545.3,709.1 L545.4,712.6 L547.1,715.4 L550.4,715.3 L553.7,713.9 L557.0,713.9 L560.3,714.6 L563.6,714.9 L566.8,714.3 L570.1,714.2 L573.5,715.9 L576.7,715.0 L580.0,714.3 L583.2,714.3 L586.4,714.3 L589.6,713.8 L592.7,714.9 L595.9,714.5 L599.1,713.8 L602.2,715.6 L605.4,715.2 L608.6,715.7 L611.8,716.1 L615.0,716.6 L618.2,716.9 L621.3,715.1 L624.5,716.7 L627.7,716.0 L630.9,716.3 L634.0,714.8 L637.1,714.6 L640.2,713.8 L643.3,714.3 L646.3,714.2 L649.4,715.0 L652.5,713.8 L655.5,714.4 L658.6,715.1 L661.6,716.6 L664.7,716.8 L667.7,717.3 L670.8,716.2 L673.9,716.6 L676.9,715.9 L680.0,715.4 L680.0,708.6 L683.6,707.5 L687.1,706.2 L690.3,704.1 L694.3,704.3 L697.5,705.1 L700.2,707.0 L702.9,708.9 L706.7,708.6 L709.3,710.7 L711.1,714.0 L714.3,715.0 L780.0,715.0 L780.0,827.0 L480.0,827.0Z"/>
<path fill="#b3b3b3" d="M480.0,700.0 L531.4,700.0 L530.0,705.7 L526.3,706.0 L522.9,707.1 L519.2,707.7 L515.7,708.7 L512.1,709.1 L508.6,710.0 L505.0,709.4 L501.5,708.8 L497.8,709.5 L494.3,708.6 L490.8,707.3 L486.9,707.2 L483.4,705.8 L480.0,704.3Z"/>
<path fill="#8ad81f" d="M480.0,704.3 L483.5,705.7 L487.3,705.9 L490.6,708.0 L494.3,708.6 L497.7,710.7 L501.4,709.7 L504.9,710.3 L508.6,710.0 L511.9,707.8 L515.8,708.9 L519.3,708.0 L522.9,707.1 L526.3,705.6 L530.0,705.7 L531.4,700.0 L554.3,700.0 L552.7,703.0 L551.1,706.1 L548.6,708.6 L548.4,712.0 L549.1,715.3 L550.0,718.6 L548.0,720.9 L547.1,724.3 L544.1,725.5 L541.4,727.1 L537.5,726.8 L533.9,728.7 L530.0,728.6 L526.4,729.5 L523.0,731.1 L519.3,731.1 L515.7,732.1 L512.5,731.8 L509.3,731.2 L507.1,728.5 L504.3,727.1 L501.0,726.0 L498.8,723.4 L497.1,720.3 L494.3,718.6 L491.6,717.2 L488.7,716.2 L485.7,715.7 L482.7,714.6 L480.0,712.9Z"/>
<path fill="#adff2f" d="M521.4,711.4 L524.7,711.2 L527.5,708.6 L531.1,709.4 L534.3,708.6 L535.7,714.3 L532.0,715.6 L528.5,717.9 L524.3,717.1 L521.8,714.8Z"/>
<path fill="#00b1b1" d="M529.3,709.3 L534.3,709.3 L533.6,712.9 L529.3,712.6Z"/>
<path fill="#67b10f" d="M560.0,700.0 L580.0,700.0 L578.6,705.7 L575.5,707.8 L572.0,707.1 L568.6,707.1 L565.8,704.6 L563.0,702.2Z"/>
<path fill="#67b10f" d="M615.7,700.0 L634.3,700.0 L634.2,703.4 L633.4,706.6 L631.9,709.6 L631.4,712.9 L628.4,714.5 L624.9,715.5 L622.9,718.6 L620.4,714.5 L615.7,714.3Z"/>
<path fill="#67b10f" d="M635.7,700.0 L705.7,700.0 L707.0,702.7 L709.2,705.2 L708.6,708.6 L705.6,709.3 L702.3,709.2 L699.5,710.4 L697.1,712.9 L696.8,715.9 L695.6,718.7 L694.3,721.4 L691.3,722.6 L688.8,724.3 L686.1,725.8 L684.3,728.6 L682.1,725.6 L679.6,722.8 L677.1,720.0 L673.3,719.8 L669.7,717.6 L665.7,718.6 L664.6,714.8 L662.9,711.3 L660.0,708.6 L657.1,706.7 L654.4,704.3 L650.7,704.7 L647.2,704.7 L644.3,702.9 L641.3,704.0 L639.9,707.1 L637.1,708.6 L636.6,704.2Z"/>
<path fill="#9b63ee" d="M645.7,702.9 L657.1,702.9 L657.9,705.8 L658.2,708.8 L660.0,711.4 L657.9,714.4 L654.2,714.1 L651.4,715.7 L648.8,712.0 L644.3,711.4 L645.1,707.2Z"/>
<path fill="#9b63ee" d="M680.0,704.3 L684.3,705.3 L687.1,708.6 L688.1,712.1 L691.5,714.6 L691.4,718.6 L688.3,718.5 L685.9,716.0 L682.9,715.7 L682.0,711.9 L681.5,708.0Z"/>
<path fill="#8ad81f" d="M708.6,700.0 L780.0,700.0 L780.0,710.0 L776.7,709.6 L773.4,708.9 L769.8,710.1 L766.6,708.7 L763.1,709.1 L760.0,707.1 L757.2,709.0 L753.8,708.9 L751.3,711.9 L747.6,710.8 L744.5,711.9 L741.4,712.9 L738.4,711.8 L735.2,712.1 L732.2,711.2 L729.0,711.5 L725.8,711.2 L722.9,710.0 L718.8,711.9 L714.3,711.4 L710.0,708.6 L710.4,704.1Z"/>
<path fill="#cdba56" d="M492.9,728.6 L494.8,731.0 L496.5,733.6 L497.3,736.7 L501.0,738.0 L501.4,741.4 L505.4,742.3 L509.1,740.5 L512.9,740.0 L515.9,738.7 L519.1,739.0 L522.0,736.8 L525.3,737.2 L528.6,737.9 L532.4,739.0 L536.4,739.5 L540.0,741.4 L543.6,739.5 L547.6,740.4 L551.4,740.0 L554.4,742.2 L558.0,743.7 L560.0,747.1 L561.9,750.5 L563.0,754.3 L565.7,757.1 L566.5,760.3 L568.6,762.9 L567.4,767.0 L564.3,770.0 L563.6,773.4 L563.2,776.9 L561.4,780.0 L560.4,783.7 L561.6,787.8 L560.0,791.4 L561.1,794.3 L560.7,797.7 L563.6,799.9 L564.3,802.9 L566.6,805.8 L566.3,809.4 L566.6,812.9 L568.3,816.0 L562.9,817.7 L560.3,815.0 L557.1,814.1 L554.0,813.1 L550.4,813.6 L547.1,813.1 L543.9,811.9 L540.5,811.1 L537.4,809.6 L534.0,808.6 L531.4,806.0 L529.6,803.3 L527.9,800.5 L526.4,797.6 L524.4,795.0 L524.3,791.4 L524.6,788.0 L523.3,785.2 L521.7,782.5 L521.1,779.4 L518.6,777.1 L515.8,774.9 L513.1,772.5 L512.9,768.6 L509.9,766.4 L508.9,762.9 L507.1,760.0 L506.1,756.9 L504.4,754.2 L502.9,751.4 L501.7,748.5 L498.2,746.6 L498.6,742.9 L498.6,739.5 L496.8,737.0 L495.2,734.3 L494.0,731.4Z"/>
<path fill="#cdba56" d="M594.3,721.4 L597.8,720.4 L601.4,720.0 L602.7,724.1 L605.7,727.1 L601.7,729.2 L597.1,728.6 L595.4,725.1Z"/>
<path fill="#cdba56" d="M540.0,731.4 L543.8,731.0 L545.7,734.3 L544.3,740.0 L540.0,737.1Z"/>
<path fill="#cdba56" d="M567.1,745.7 L571.0,745.4 L573.9,743.0 L577.1,741.4 L578.6,747.1 L575.5,749.8 L571.4,750.0 L568.8,748.4Z"/>
<path fill="#ac972b" d="M511.4,748.6 L514.4,746.8 L517.6,747.3 L520.7,745.8 L524.0,747.2 L527.1,747.1 L530.5,747.7 L533.0,749.5 L535.0,751.9 L537.1,754.3 L541.0,755.0 L545.0,755.4 L548.6,757.1 L550.1,760.2 L553.4,762.1 L554.3,765.5 L555.7,768.6 L555.3,772.7 L556.5,776.5 L558.6,780.0 L558.3,783.4 L557.4,786.8 L557.4,790.3 L557.9,793.7 L557.9,797.1 L554.6,797.7 L551.4,797.9 L548.6,795.7 L545.0,797.2 L541.4,798.6 L539.1,796.6 L537.8,793.7 L535.7,791.4 L535.5,787.9 L535.3,784.3 L532.9,781.4 L535.2,778.5 L535.1,774.5 L537.1,771.4 L534.3,769.7 L532.5,766.7 L529.5,765.2 L527.1,762.9 L523.3,763.9 L520.6,760.6 L517.1,760.0 L515.1,757.5 L514.4,754.2 L513.1,751.3Z"/>
<path fill="#86d5f9" d="M511.4,762.9 L522.9,762.9 L525.2,765.7 L527.9,768.1 L531.0,769.8 L534.3,771.4 L534.5,775.1 L533.1,778.3 L531.4,781.4 L530.7,785.5 L533.4,788.9 L533.6,792.9 L535.6,796.3 L537.1,800.0 L542.9,798.6 L546.5,798.3 L550.0,797.1 L551.9,799.7 L554.7,801.0 L557.1,802.9 L559.1,805.5 L559.5,808.8 L561.8,811.2 L562.9,814.3 L559.8,813.5 L556.6,813.8 L553.4,813.4 L550.2,813.6 L547.1,812.9 L544.3,810.7 L541.1,809.4 L537.1,809.9 L534.3,807.7 L531.4,805.7 L529.2,803.2 L528.1,800.3 L528.1,796.6 L527.1,793.6 L524.3,791.4 L523.5,788.4 L521.3,786.0 L521.1,782.8 L520.4,779.7 L518.6,777.1 L516.8,774.5 L516.0,771.3 L514.7,768.4 L512.7,765.8Z"/>
<path fill="#98f5ff" d="M525.7,764.3 L528.7,767.5 L532.9,768.6 L536.2,770.2 L540.0,770.0 L536.1,770.0 L532.8,771.7 L530.0,774.3 L528.0,771.2 L525.7,768.3Z"/>
<path fill="#75b5f3" d="M544.3,805.7 L547.5,803.4 L551.4,804.3 L554.8,807.1 L555.7,811.4 L547.1,811.4 L546.3,808.3Z"/>
<path fill="#8ad81f" d="M730.0,680.0 L887.1,680.0 L887.1,740.7 L730.0,740.7Z"/>
<path fill="#b3b3b3" d="M735.7,680.0 L797.1,680.0 L798.5,683.1 L798.3,686.4 L798.5,689.6 L798.6,692.9 L795.5,693.5 L792.5,693.7 L789.5,694.4 L786.4,693.2 L783.4,694.1 L780.4,692.8 L777.3,692.8 L774.3,693.6 L771.2,691.5 L768.2,693.5 L765.2,693.0 L762.1,692.5 L759.1,692.0 L756.1,693.6 L753.0,693.0 L750.0,693.6 L747.3,691.5 L744.3,690.0 L741.2,691.0 L738.6,692.9 L735.7,688.6Z"/>
<path fill="#b3b3b3" d="M801.4,680.0 L814.3,680.0 L814.3,687.1 L810.3,687.5 L807.1,690.0 L805.1,687.8 L802.9,685.7Z"/>
<path fill="#8ad81f" d="M770.0,682.9 L773.4,683.1 L776.8,682.7 L780.0,681.4 L782.2,685.0 L784.3,688.6 L780.3,689.0 L776.9,691.4 L772.9,691.4 L772.0,688.5 L770.3,685.9Z"/>
<path fill="#67b10f" d="M792.9,700.0 L796.3,700.3 L799.3,701.4 L801.4,704.4 L804.3,705.7 L807.8,708.0 L811.7,708.3 L815.7,708.6 L830.0,708.6 L833.8,708.0 L837.7,708.0 L841.4,707.1 L845.2,707.7 L849.1,707.4 L852.9,708.6 L855.0,711.7 L858.6,712.9 L857.4,715.6 L856.4,718.5 L855.7,721.4 L853.9,725.0 L850.0,725.7 L847.8,728.5 L844.3,728.6 L842.2,731.5 L838.6,731.4 L834.8,730.9 L831.4,732.9 L829.2,730.1 L827.1,727.1 L824.8,725.1 L823.4,722.4 L821.4,720.0 L819.2,717.2 L815.7,717.1 L812.9,720.0 L808.6,720.7 L804.3,721.4 L801.8,719.6 L798.9,718.5 L797.1,715.7 L795.0,712.4 L794.3,708.6 L794.8,704.1Z"/>
<path fill="#67b10f" d="M830.0,694.3 L834.2,695.3 L838.6,695.7 L840.7,699.0 L841.4,702.9 L837.0,702.9 L832.9,701.4 L831.7,697.8Z"/>
<path fill="#9b63ee" d="M838.6,731.4 L840.5,728.2 L844.3,728.6 L846.9,726.6 L850.0,725.7 L852.6,723.3 L855.7,721.4 L857.8,718.4 L858.0,714.3 L861.1,711.8 L862.9,708.6 L867.1,705.7 L867.1,709.0 L869.3,711.4 L871.9,714.8 L871.8,718.9 L872.1,722.9 L873.8,726.0 L873.5,729.9 L875.7,732.9 L876.8,736.9 L878.6,740.7 L836.4,740.7 L837.1,737.1Z"/>
<path fill="#ab82ff" d="M840.0,732.9 L843.2,732.1 L845.5,729.6 L848.6,728.7 L851.4,727.1 L854.0,724.9 L854.9,721.1 L858.6,720.0 L860.9,722.5 L864.3,722.9 L864.0,726.1 L862.6,728.8 L859.7,731.0 L858.7,733.9 L858.6,737.1 L855.4,738.5 L851.7,738.5 L848.6,740.0 L845.5,737.9 L843.3,734.7Z"/>
<path fill="#00b1b1" d="M828.6,681.4 L832.9,680.0 L835.8,682.1 L835.7,685.7 L832.9,687.1 L829.7,685.1Z"/>
<path fill="#00b1b1" d="M858.6,686.4 L860.7,687.1 L860.0,690.0 L857.9,689.3Z"/>
<path fill="#00b1b1" d="M778.6,680.0 L784.3,680.0 L782.9,682.1 L779.3,681.7Z"/>
<path fill="#cdba56" d="M825.7,740.0 L911.4,740.0 L911.4,840.0 L825.7,840.0Z"/>
<path fill="#9b63ee" d="M832.9,740.0 L878.6,740.0 L880.5,744.1 L880.7,748.6 L881.4,754.3 L878.5,756.4 L877.5,759.3 L877.6,762.6 L877.1,765.7 L868.6,765.7 L866.4,762.5 L863.4,760.4 L860.0,758.6 L855.4,759.1 L852.9,762.9 L844.3,762.9 L843.7,759.3 L843.5,755.7 L845.0,752.1 L843.6,748.6 L842.2,744.8 L840.0,741.4 L836.0,742.7Z"/>
<path fill="#8c44dd" d="M854.3,744.3 L857.9,744.5 L861.4,743.2 L865.2,745.0 L868.6,742.9 L871.4,745.8 L874.3,748.6 L871.4,749.7 L868.8,751.4 L865.7,751.7 L862.9,752.9 L860.6,750.9 L859.4,747.7 L856.2,746.7Z"/>
<path fill="#cdba56" d="M844.3,762.9 L852.9,762.9 L857.3,762.1 L860.0,758.6 L860.2,755.1 L862.9,752.9 L865.8,751.6 L868.8,750.5 L871.4,748.6 L872.3,752.4 L875.7,754.3 L875.0,757.6 L873.0,759.9 L870.0,761.4 L871.6,764.6 L873.6,767.4 L877.1,768.6 L878.9,765.1 L881.5,762.2 L882.9,758.6 L884.5,761.7 L885.9,765.0 L886.4,768.6 L886.3,772.4 L887.3,775.8 L890.0,778.6 L891.4,781.8 L891.8,785.5 L893.6,788.6 L892.9,794.3 L889.7,795.1 L886.5,795.5 L883.6,793.3 L880.4,794.2 L877.4,793.3 L874.3,792.9 L872.4,796.2 L872.9,800.0 L868.6,799.7 L865.7,802.9 L862.9,805.7 L859.2,804.0 L858.6,800.0 L856.4,797.8 L854.4,795.5 L852.9,792.9 L851.2,789.3 L847.9,787.1 L847.9,783.1 L846.3,779.4 L845.0,775.7 L842.4,772.2 L840.0,768.6 L841.3,765.1Z"/>
<path fill="#9b63ee" d="M868.6,764.3 L871.9,763.8 L874.6,765.2 L877.1,767.1 L878.6,772.9 L872.9,774.3 L871.5,770.9 L870.4,767.4Z"/>
<path fill="#ac972b" d="M874.3,792.9 L877.5,792.1 L880.6,791.0 L883.7,789.7 L887.0,789.6 L890.1,788.7 L893.6,789.3 L893.6,795.7 L890.3,797.0 L887.1,798.6 L885.6,802.0 L885.7,805.7 L883.5,808.6 L881.0,811.0 L877.1,811.4 L873.7,811.9 L870.5,813.5 L867.1,814.3 L865.7,810.3 L862.9,807.1 L865.7,802.9 L869.9,803.1 L872.9,800.0 L872.8,796.3Z"/>
<path fill="#86d5f9" d="M851.4,797.1 L855.0,798.6 L858.6,800.0 L860.7,803.6 L862.9,807.1 L864.1,811.3 L867.1,814.3 L870.0,811.7 L873.7,812.0 L877.1,811.4 L879.7,809.0 L883.9,809.2 L885.7,805.7 L885.8,802.0 L887.1,798.6 L890.6,797.2 L893.6,795.0 L894.8,798.3 L893.8,801.9 L894.7,805.3 L895.7,808.6 L894.7,811.8 L894.5,815.3 L893.6,818.6 L892.0,822.2 L890.3,825.7 L889.7,829.7 L888.6,833.6 L884.8,833.3 L881.4,835.0 L878.0,834.1 L875.0,832.1 L873.0,828.8 L870.7,825.7 L869.5,822.2 L867.1,819.3 L864.4,817.9 L861.4,817.1 L860.0,811.4 L858.8,807.8 L857.1,804.3 L855.1,802.0 L852.8,800.0Z"/>
<path fill="#75b5f3" d="M888.6,808.6 L891.6,807.8 L894.6,807.1 L895.9,810.5 L895.2,813.6 L892.7,816.7 L893.7,820.0 L890.0,820.0 L887.7,816.4 L888.5,812.5Z"/>
<path fill="#b3b3b3" d="M390.0,690.0 L480.0,690.0 L480.0,778.9 L390.0,778.9Z"/>
<path fill="#8ad81f" d="M456.0,697.0 L466.0,697.0 L466.8,700.8 L470.0,703.0 L480.0,703.0 L480.0,713.0 L476.2,712.8 L473.0,715.0 L469.8,715.4 L467.0,717.0 L464.0,718.0 L460.2,717.6 L456.8,718.4 L454.0,721.0 L450.0,722.0 L452.3,719.8 L455.6,719.1 L458.0,717.0 L460.2,714.6 L462.7,712.4 L465.0,710.0 L462.7,707.3 L464.0,704.0 L460.1,703.1 L458.6,699.5Z"/>
<path fill="#67b10f" d="M470.0,705.0 L473.9,703.4 L478.0,704.0 L478.8,707.1 L480.0,710.0 L475.6,711.2 L473.0,715.0 L471.5,712.1 L469.0,710.0Z"/>
<path fill="#9b63ee" d="M446.0,724.0 L449.8,722.1 L454.0,721.0 L457.7,721.4 L460.6,718.8 L464.0,718.0 L466.6,715.8 L469.8,715.4 L473.0,715.0 L476.2,712.8 L480.0,713.0 L480.0,726.0 L476.3,724.7 L473.1,722.2 L469.0,722.0 L464.0,724.0 L461.5,729.0 L461.5,732.9 L459.0,736.0 L457.9,740.5 L454.0,743.0 L450.0,742.0 L450.0,732.0 L447.3,728.3Z"/>
<path fill="#8ad81f" d="M435.0,728.0 L438.8,726.5 L442.0,724.0 L446.0,723.2 L450.0,723.0 L451.4,726.4 L451.0,730.0 L448.6,732.1 L446.0,734.0 L442.8,734.4 L440.0,733.0 L437.5,730.5Z"/>
<path fill="#9b63ee" d="M430.0,726.0 L435.0,728.0 L436.5,731.5 L440.0,733.0 L443.1,732.6 L446.0,734.0 L450.0,737.0 L446.0,740.0 L443.6,737.9 L441.3,735.7 L438.0,735.0 L435.2,733.6 L432.9,731.3 L430.0,730.0Z"/>
<path fill="#cdba56" d="M454.0,726.0 L458.0,727.0 L457.0,730.0 L454.0,729.0Z"/>
<path fill="#cdba56" d="M443.0,735.0 L447.0,735.0 L446.0,738.0 L443.0,737.0Z"/>
<path fill="#00b1b1" d="M457.0,713.2 L461.2,712.8 L461.2,715.0 L457.0,715.2Z"/>
<path fill="#b3b3b3" d="M272.3,557.2 L275.0,555.1 L278.3,555.5 L281.0,553.4 L284.1,553.2 L287.4,554.1 L289.8,556.6 L291.5,559.8 L294.3,561.8 L297.0,563.9 L299.5,566.2 L301.3,568.8 L302.8,571.4 L303.4,574.6 L306.0,576.6 L307.8,579.1 L309.4,581.7 L310.4,584.6 L311.7,587.4 L311.6,590.8 L309.8,593.8 L309.2,597.1 L305.8,595.7 L304.5,592.1 L301.8,590.0 L299.5,587.4 L296.5,585.7 L294.9,582.8 L292.3,580.8 L291.3,577.4 L289.6,574.7 L287.4,572.3 L283.8,571.9 L280.8,570.4 L277.7,569.0 L275.3,566.2 L274.2,563.3 L273.5,560.1Z"/>
<path fill="#4d4d4d" d="M97.1,270.0 L100.9,270.2 L104.3,268.6 L105.0,271.8 L107.1,274.3 L105.1,277.5 L101.4,278.6 L98.4,277.5 L95.7,275.7Z"/>
<path fill="#4d4d4d" d="M94.3,282.9 L97.5,280.4 L101.4,281.4 L102.9,285.0 L104.3,288.6 L100.7,289.8 L98.6,292.9 L95.0,290.0 L92.6,286.6Z"/>
<path fill="#4d4d4d" d="M97.1,297.1 L102.9,295.7 L101.9,299.2 L101.4,302.9 L96.4,304.3 L96.6,300.7Z"/>
<path fill="#4d4d4d" d="M121.4,318.6 L127.1,317.1 L128.6,321.4 L126.0,323.4 L122.9,324.3Z"/>
<path fill="#4d4d4d" d="M158.6,348.6 L162.1,347.9 L165.7,347.1 L167.1,352.9 L163.7,354.4 L160.0,354.3Z"/>
<path fill="#4d4d4d" d="M134.3,492.9 L137.3,493.4 L140.7,492.7 L142.9,495.7 L144.9,499.0 L144.3,502.9 L141.4,499.6 L137.1,500.0 L134.5,496.9Z"/>
<path fill="#4d4d4d" d="M145.7,498.6 L148.5,500.6 L151.2,502.8 L154.3,504.3 L154.5,507.9 L155.7,511.4 L152.5,508.7 L148.6,507.1 L149.1,503.8 L148.7,500.8Z"/>
<path fill="#4d4d4d" d="M158.6,514.3 L161.2,516.2 L163.5,518.7 L167.1,518.6 L169.7,520.9 L170.0,524.3 L171.4,527.1 L168.4,524.2 L164.3,524.3 L162.6,520.8 L159.9,518.0Z"/>
<path fill="#4d4d4d" d="M174.3,530.0 L177.3,532.8 L181.4,532.9 L184.6,535.4 L185.9,538.8 L185.7,542.9 L182.2,541.3 L178.6,540.0 L176.6,536.9 L173.8,534.1Z"/>
<path fill="#4d4d4d" d="M135.7,472.9 L138.3,470.9 L141.4,470.0 L142.6,472.8 L144.6,475.3 L144.3,478.6 L141.8,480.8 L138.6,481.4 L137.8,478.5 L136.4,475.8Z"/>
<path fill="#4d4d4d" d="M142.9,482.9 L146.3,481.2 L150.0,480.0 L149.2,484.5 L151.4,488.6 L148.1,490.6 L144.3,491.4 L143.6,487.1Z"/>
<path fill="#4d4d4d" d="M134.3,487.1 L140.0,485.7 L139.8,489.3 L140.7,492.9 L135.0,494.3 L133.6,490.8Z"/>
<path fill="#b3b3b3" d="M155.7,450.0 L160.0,447.1 L162.0,451.2 L161.4,455.7 L157.1,457.1 L156.7,453.5Z"/>
<path fill="#b3b3b3" d="M167.1,437.1 L171.4,435.7 L171.8,440.1 L172.9,444.3 L168.6,445.7 L167.0,441.6Z"/>
<path fill="#b3b3b3" d="M175.7,455.7 L180.0,454.3 L180.3,457.6 L182.0,460.8 L181.4,464.3 L177.1,465.7 L176.7,462.4 L175.9,459.1Z"/>
<path fill="#b3b3b3" d="M254.3,507.1 L258.6,505.7 L260.2,508.7 L258.0,512.1 L258.6,515.2 L259.2,518.3 L260.0,521.4 L255.7,522.9 L256.9,519.6 L256.4,516.5 L255.8,513.3 L255.4,510.2Z"/>
<path fill="#b3b3b3" d="M264.3,498.6 L268.6,497.1 L267.6,500.8 L267.8,504.4 L269.9,507.8 L270.0,511.4 L265.7,512.9 L266.8,509.1 L266.1,505.6 L264.8,502.1Z"/>
<path fill="#b3b3b3" d="M272.9,522.9 L278.6,521.4 L277.1,525.3 L278.0,529.1 L279.3,532.9 L273.6,534.3 L271.3,530.6 L273.2,526.7Z"/>
<path fill="#b3b3b3" d="M250.0,538.6 L255.7,537.1 L257.6,540.3 L256.3,543.9 L257.1,547.1 L251.4,548.6 L252.7,545.0 L251.2,541.8Z"/>
<path fill="none" stroke="#b3b3b3" stroke-width="1.6" stroke-linejoin="round" d="M121.4,300.3 L127.1,297.1 L130.0,290.0 L135.7,284.3 L144.3,285.7 L148.6,288.6 L155.7,290.0 L165.7,288.6 L164.3,292.9"/>
<path fill="none" stroke="#b3b3b3" stroke-width="1.6" stroke-linejoin="round" d="M135.7,284.3 L138.6,297.1 L144.3,298.6"/>
<path fill="none" stroke="#b3b3b3" stroke-width="2.0" stroke-linejoin="round" d="M92.9,271.4 L104.3,272.9 L97.1,278.6 L102.9,284.3"/>
<path fill="none" stroke="#d800d8" stroke-width="1.6" stroke-linejoin="round" d="M91.4,462.9 L95.7,470.0 L97.1,481.4 L104.3,488.6 L107.9,497.0"/>
<path fill="none" stroke="#d800d8" stroke-width="1.2" stroke-linejoin="round" d="M78.6,472.9 L79.3,484.3 L80.0,497.0"/>
<path fill="none" stroke="#b3b3b3" stroke-width="1.4" stroke-linejoin="round" d="M164.3,427.1 L162.9,435.7 L167.1,438.6 L172.9,444.3 L171.4,452.9 L175.7,461.4 L178.6,467.1"/>
<path fill="none" stroke="#b3b3b3" stroke-width="1.2" stroke-linejoin="round" d="M158.6,441.4 L157.1,455.7 L158.6,461.4 L155.7,470.0"/>
<path fill="none" stroke="#b3b3b3" stroke-width="1.2" stroke-linejoin="round" d="M192.9,467.1 L195.7,461.4 L205.7,464.3"/>
<path fill="none" stroke="#b3b3b3" stroke-width="1.4" stroke-linejoin="round" d="M250.0,497.0 L255.7,488.6 L261.4,482.9"/>
<path fill="none" stroke="#b3b3b3" stroke-width="1.4" stroke-linejoin="round" d="M180.0,398.6 L184.3,384.3 L181.4,375.7"/>
<path fill="none" stroke="#b3b3b3" stroke-width="1.6" stroke-linejoin="round" d="M1035.7,434.3 L1036.9,445.0"/>
<path fill="none" stroke="#b3b3b3" stroke-width="1.4" stroke-linejoin="round" d="M1063.6,422.9 L1065.0,425.7"/>
<path fill="none" stroke="#b3b3b3" stroke-width="1.4" stroke-linejoin="round" d="M252.9,498.6 L254.3,518.6 L258.6,525.7"/>
<path fill="none" stroke="#b3b3b3" stroke-width="1.4" stroke-linejoin="round" d="M264.3,504.3 L265.7,518.6 L271.4,515.7"/>
<path fill="none" stroke="#b3b3b3" stroke-width="1.4" stroke-linejoin="round" d="M307.1,598.6 L314.3,604.3 L322.9,601.4 L330.0,598.6"/>
<path fill="none" stroke="#4d4d4d" stroke-width="1.4" stroke-linejoin="round" d="M135.7,494.3 L144.3,501.4 L154.3,505.7 L162.9,512.9"/>
<path fill="none" stroke="#4d4d4d" stroke-width="1.4" stroke-linejoin="round" d="M138.6,502.9 L148.6,511.4"/>
<path fill="none" stroke="#d800d8" stroke-width="1.5" stroke-linejoin="round" d="M110.0,544.3 L115.7,561.4 L121.4,570.0 L127.1,581.4 L132.9,590.0 L138.6,595.7 L144.3,601.7 L152.9,600.0"/>
<path fill="none" stroke="#d800d8" stroke-width="1.3" stroke-linejoin="round" d="M132.9,544.3 L142.9,552.9 L150.0,561.4 L154.0,572.9 L153.1,581.4 L156.0,590.0"/>
<path fill="none" stroke="#309230" stroke-width="1.6" stroke-linejoin="round" d="M68.6,502.9 L78.6,514.3 L90.0,527.1"/>
<path fill="none" stroke="#9b63ee" stroke-width="2.0" stroke-linejoin="round" d="M198.6,582.9 L204.3,592.9 L208.6,604.3 L215.7,610.0"/>
<path fill="none" stroke="#9b63ee" stroke-width="1.6" stroke-linejoin="round" d="M187.1,590.0 L195.7,598.6 L201.4,608.6"/>
<path fill="none" stroke="#ee9034" stroke-width="1.6" stroke-linejoin="round" d="M164.3,590.0 L161.4,601.4 L155.7,607.1"/>
<path fill="none" stroke="#ee9034" stroke-width="1.6" stroke-linejoin="round" d="M182.9,608.6 L198.6,607.9"/>
<path fill="none" stroke="#ee9034" stroke-width="1.4" stroke-linejoin="round" d="M207.1,595.7 L218.6,597.1 L224.3,592.9"/>
<path fill="none" stroke="#00d8d8" stroke-width="1.5" stroke-linejoin="round" d="M172.9,557.1 L181.4,570.0 L190.0,578.6"/>
<path fill="none" stroke="#8ad81f" stroke-width="1.5" stroke-linejoin="round" d="M181.4,555.7 L191.4,570.0 L200.0,581.4 L207.1,588.6"/>
<path fill="none" stroke="#9b63ee" stroke-width="1.3" stroke-linejoin="round" d="M183.6,557.1 L192.9,570.0 L201.4,581.4"/>
<path fill="none" stroke="#00d8d8" stroke-width="1.3" stroke-linejoin="round" d="M171.4,575.7 L175.7,581.4"/>
<path fill="none" stroke="#d800d8" stroke-width="1.3" stroke-linejoin="round" d="M155.7,590.0 L158.6,592.9"/>
<path fill="none" stroke="#ee9034" stroke-width="1.3" stroke-linejoin="round" d="M221.4,547.1 L222.9,552.9 L218.6,561.4"/>
<path fill="none" stroke="#8ad81f" stroke-width="1.5" stroke-linejoin="round" d="M252.9,595.7 L258.6,604.3 L264.3,612.9"/>
<path fill="none" stroke="#b3b3b3" stroke-width="1.4" stroke-linejoin="round" d="M927.1,505.7 L922.9,512.9 L920.0,517.1"/>
<path fill="none" stroke="#b3b3b3" stroke-width="1.4" stroke-linejoin="round" d="M894.3,492.9 L897.4,489.3"/>
<path fill="none" stroke="#b3b3b3" stroke-width="1.6" stroke-linejoin="round" d="M268.6,595.7 L285.7,600.7 L302.9,600.0 L314.3,594.3 L322.9,590.0"/>
<path fill="none" stroke="#8ad81f" stroke-width="1.6" stroke-linejoin="round" d="M284.3,667.1 L288.6,672.9 L290.0,680.0"/>
<path fill="none" stroke="#8ad81f" stroke-width="1.4" stroke-linejoin="round" d="M311.4,640.0 L320.0,644.3 L325.7,652.9"/>
<path fill="none" stroke="#00d8d8" stroke-width="1.2" stroke-linejoin="round" d="M322.9,647.1 L332.9,648.6"/>
<path fill="none" stroke="#d800d8" stroke-width="1.6" stroke-linejoin="round" d="M157.1,620.0 L167.1,627.1 L177.1,637.1 L182.9,647.1 L185.7,657.1"/>
<path fill="none" stroke="#d800d8" stroke-width="1.4" stroke-linejoin="round" d="M191.4,632.9 L194.3,647.1 L195.0,655.7"/>
<path fill="none" stroke="#d800d8" stroke-width="1.3" stroke-linejoin="round" d="M142.9,611.4 L154.3,607.1 L161.4,607.1"/>
<path fill="none" stroke="#ee9034" stroke-width="1.5" stroke-linejoin="round" d="M160.0,607.1 L174.3,608.6 L188.6,610.0 L200.0,611.4"/>
<path fill="none" stroke="#ee9034" stroke-width="1.5" stroke-linejoin="round" d="M208.6,594.3 L220.0,598.6 L228.6,597.1"/>
<path fill="none" stroke="#00d8d8" stroke-width="1.2" stroke-linejoin="round" d="M435.7,694.3 L442.9,704.3 L451.4,708.6"/>
<path fill="none" stroke="#ee9034" stroke-width="1.2" stroke-linejoin="round" d="M440.0,710.0 L445.7,712.9"/>
<path fill="none" stroke="#00d8d8" stroke-width="1.2" stroke-linejoin="round" d="M402.9,682.9 L405.7,684.3"/>
<path fill="none" stroke="#8ad81f" stroke-width="1.4" stroke-linejoin="round" d="M517.1,681.4 L522.9,685.7 L528.6,690.0"/>
<path fill="none" stroke="#00d8d8" stroke-width="1.6" stroke-linejoin="round" d="M923.6,625.7 L917.1,631.4 L911.4,638.6"/>
<path fill="none" stroke="#00d8d8" stroke-width="1.2" stroke-linejoin="round" d="M751.4,688.6 L754.3,684.3 L758.6,682.9"/>
<path fill="none" stroke="#dd7b1a" stroke-width="1.5" stroke-linejoin="round" d="M425.0,710.0 L429.0,717.0"/>
<path fill="none" stroke="#dd7b1a" stroke-width="1.5" stroke-linejoin="round" d="M440.0,709.5 L446.0,714.0"/>
<path fill="none" stroke="#00d8d8" stroke-width="1.3" stroke-linejoin="round" d="M435.0,694.0 L438.0,699.0 L444.0,705.0"/>
<path fill="none" stroke="#00d8d8" stroke-width="1.3" stroke-linejoin="round" d="M444.0,711.0 L453.0,708.5"/>
<path fill="none" stroke="#00d8d8" stroke-width="1.3" stroke-linejoin="round" d="M425.0,718.0 L428.0,723.0"/>
</g>
<path fill="#4d4d4d" d="M690.7,312.9 L697.1,309.3 L697.9,312.1 L693.6,317.1 L691.4,315.7Z"/>
<path fill="#4d4d4d" d="M718.3,290.7 L725.7,286.0 L733.1,283.1 L734.9,285.4 L730.7,289.3 L721.4,294.0Z"/>
<path fill="#4d4d4d" d="M812.1,323.1 L817.9,323.1 L817.9,330.7 L814.3,330.7Z"/>
<path fill="#4d4d4d" d="M820.0,333.6 L828.6,333.3 L829.7,337.1 L827.9,339.3 L821.4,338.6Z"/>
<path fill="#4d4d4d" d="M786.9,341.4 L792.9,340.3 L791.4,347.1 L787.9,346.4Z"/>
<path fill="#4d4d4d" d="M806.4,338.6 L812.9,340.7 L811.4,342.9 L807.1,341.4Z"/>
<path fill="#4d4d4d" d="M1108.6,378.6 L1122.9,375.4 L1121.4,381.4 L1114.3,383.6 L1107.1,382.9Z"/>
<path fill="#8ad81f" d="M121.4,621.7 L142.9,622.3 L142.1,624.3 L128.6,625.7 L122.1,623.7Z"/>
<path fill="#d8360b" d="M128.6,622.6 L133.6,621.7 L133.6,624.3 L129.3,625.0Z"/>
<path fill="#d800d8" d="M156.4,635.0 L162.9,637.1 L163.6,640.3 L158.6,639.3Z"/>
<path fill="#309230" d="M156.4,645.7 L162.9,650.0 L161.7,652.9 L157.1,648.6Z"/>
<path fill="#8ad81f" d="M138.6,640.0 L141.4,640.7 L141.4,643.6 L138.9,642.1Z"/>
<path fill="#309230" d="M148.0,635.1 L149.7,635.1 L149.7,636.9 L148.0,636.9Z"/>
<path fill="#dd7b1a" d="M980.0,582.9 L983.6,585.7 L982.9,592.9 L978.6,595.7 L972.9,597.4 L967.1,596.0 L974.3,590.7 L978.6,587.1Z"/>
<path fill="#00ffff" d="M965.0,596.0 L975.7,592.1 L976.4,595.7 L970.0,598.6 L967.9,602.9 L961.4,610.3 L960.0,607.4Z"/>
<path fill="#9b63ee" d="M722.9,718.6 L727.1,717.1 L727.9,721.4 L722.9,728.6 L720.0,730.0Z"/>
<path fill="#f9c0cb" d="M838.6,847.1 L841.4,847.1 L841.4,850.0 L838.6,850.0Z"/>
<path fill="#f9c0cb" d="M860.0,848.6 L865.7,845.0 L871.4,844.3 L871.4,847.9 L862.9,850.7Z"/>
<path fill="#f9c0cb" d="M874.3,845.7 L877.9,845.0 L877.1,847.1Z"/>
<path fill="#f9c0cb" d="M880.0,842.1 L885.7,838.6 L886.4,840.0 L880.7,844.3Z"/>
<path fill="#f9c0cb" d="M853.6,849.3 L856.4,848.6 L856.4,850.3 L853.6,850.7Z"/>
<path fill="#75b5f3" d="M885.7,837.1 L890.0,835.0 L890.0,837.1 L887.1,838.9Z"/>
<path fill="#f9c0cb" d="M890.7,828.6 L892.9,827.9 L892.9,831.4 L891.1,831.4Z"/>
<path fill="#cdba56" d="M882.9,750.0 L885.7,751.4 L885.7,758.6 L883.6,757.1Z"/>
<path class="b" d="M77.1,264.7 L77.9,270.0 L84.3,271.4 L85.4,278.6 L87.1,284.3 L88.9,288.6 L87.4,295.7 L86.9,304.3 L83.1,308.6 L77.1,311.7 L72.9,308.9 L71.7,303.1 L76.0,298.6 L78.6,292.9 L79.7,287.4 L77.1,284.3 L72.9,277.9 L71.0,275.0 L72.9,271.7 L76.0,271.0 L80.0,274.3 L82.9,278.6 L84.3,285.7 L85.0,292.9 L83.6,300.0 L80.0,305.7 L75.7,307.1 L74.3,302.9 L77.9,297.1 L75.7,284.3 L58.6,282.9 L42.1,279.0 L40.3,280.7 L40.7,285.7 L44.3,291.4 L47.9,295.7 L50.0,302.9 L52.1,310.0 L53.6,312.9 L58.6,312.9 L54.3,315.7 L53.6,318.6 L57.9,320.3 L54.3,324.3 L53.6,330.0 L55.0,334.3 L55.7,341.4 L55.4,350.0 L54.6,361.4 L53.6,377.0 L52.9,381.4 L51.4,391.4 L47.9,400.0 L45.7,407.1 L43.6,412.1 L46.4,415.7 L47.1,422.9 L49.3,431.7 L50.7,437.1 L52.9,444.3 L51.4,452.9 L48.6,461.4 L46.4,468.6 L48.6,474.3 L54.3,480.0 L57.9,487.1 L58.6,497.0 L57.1,497.1 L60.0,504.3 L65.7,511.4 L71.4,518.6 L72.9,525.7 L77.1,528.6 L81.4,524.3 L87.1,525.7 L85.7,532.9 L91.4,540.0 L87.1,537.1 L83.6,537.1 L85.0,545.7 L90.0,551.4 L95.7,554.3 L93.6,561.4 L97.1,568.6 L102.9,575.7 L110.0,584.3 L115.7,591.4 L118.6,598.6 L120.0,607.1 L122.9,611.4 L132.9,612.9 L142.9,614.3 L148.6,617.0 L148.6,617.0 L154.3,622.9 L161.4,627.1 L167.1,628.6 L174.3,635.7 L180.0,642.9 L182.9,648.6 L184.3,654.3 L185.7,658.9 L185.7,658.9 L230.0,655.3 L229.7,659.1 L300.0,687.9 L356.4,687.9 L356.4,676.7 L388.0,676.7 L394.3,684.3 L402.9,691.4 L408.6,697.1 L417.1,704.3 L421.4,711.4 L422.9,717.0 L423.0,719.0 L425.0,725.0 L428.0,729.0 L434.0,733.0 L440.0,737.0 L446.0,742.0 L450.0,744.5 L454.0,744.0 L457.0,739.0 L460.0,734.0 L461.5,729.0 L464.0,725.0 L469.0,723.0 L476.0,724.0 L484.0,724.5 L488.6,731.4 L494.3,737.1 L498.6,742.9 L502.9,751.4 L507.1,760.0 L512.9,768.6 L518.6,777.1 L522.9,784.3 L524.3,791.4 L528.6,800.0 L531.4,805.7 L540.0,808.6 L547.1,812.9 L557.1,814.3 L562.9,817.4 L567.9,815.4 L567.9,815.4 L567.1,810.0 L564.3,802.9 L561.4,794.3 L560.0,785.7 L555.7,784.3 L555.0,780.7 L560.7,780.0 L562.9,777.1 L560.0,771.4 L561.4,768.6 L565.0,770.0 L567.1,762.9 L572.9,757.1 L578.6,751.4 L582.9,750.0 L588.6,750.0 L597.1,745.7 L604.3,740.0 L607.1,732.9 L609.3,725.0 L614.3,723.6 L615.7,728.6 L625.7,725.7 L632.9,723.6 L641.4,724.3 L651.4,727.9 L661.4,728.6 L664.3,724.3 L672.9,725.7 L677.1,731.4 L682.9,737.1 L690.0,740.0 L698.6,738.6 L704.3,734.3 L708.6,732.9 L714.3,735.7 L722.9,738.6 L720.3,742.9 L715.7,742.9 L714.3,740.0 L711.4,731.4 L715.7,725.7 L720.0,718.6 L717.1,715.7 L712.1,717.0 L712.1,717.0 L714.3,713.1 L721.4,710.3 L734.3,710.3 L740.0,703.1 L742.9,701.7 L745.7,710.0 L751.4,706.0 L757.1,711.4 L758.6,706.4 L767.1,707.1 L774.3,706.4 L780.0,708.6 L785.7,712.9 L790.0,718.6 L791.4,726.0 L797.1,724.6 L804.3,721.4 L812.9,720.0 L815.7,717.1 L821.4,720.0 L827.1,727.1 L831.4,732.9 L837.1,737.1 L835.7,740.0 L841.4,742.9 L844.3,748.6 L843.6,755.7 L842.1,762.9 L840.7,770.0 L844.3,775.7 L845.0,781.4 L847.9,788.6 L850.7,793.6 L855.7,798.6 L858.6,804.3 L860.0,811.4 L861.4,817.1 L867.1,819.3 L870.7,825.7 L873.6,831.4 L875.0,836.0 L881.4,834.6 L888.6,832.9 L890.3,825.7 L893.6,818.6 L895.3,808.6 L895.7,797.1 L893.6,788.6 L890.0,778.6 L886.4,768.6 L882.9,758.6 L880.7,748.6 L877.9,740.0 L875.7,732.9 L872.1,722.9 L869.3,711.4 L867.9,708.6 L865.7,701.4 L867.1,692.9 L871.4,684.3 L875.7,675.7 L874.3,667.1 L881.4,662.9 L888.6,658.6 L895.7,654.3 L902.9,648.6 L908.6,644.3 L911.4,638.6 L917.1,631.4 L923.6,625.7 L931.4,625.7 L938.6,621.4 L944.3,615.7 L952.9,611.4 L955.7,607.9 L961.4,606.0 L967.1,600.3 L965.0,596.0 L970.0,595.0 L977.1,597.0 L981.4,592.9 L983.1,587.1 L981.4,580.0 L977.1,570.0 L974.3,562.3 L972.9,551.7 L975.7,545.7 L980.0,538.6 L984.3,532.9 L988.6,527.1 L990.7,518.6 L991.7,512.9 L988.6,508.6 L985.7,502.9 L983.1,495.7 L981.4,488.6 L980.0,488.6 L980.0,488.6 L982.9,492.9 L985.7,498.6 L990.0,502.9 L994.3,504.3 L1001.4,497.1 L1005.7,490.0 L1010.0,482.9 L1012.1,475.7 L1011.4,470.0 L1004.3,467.9 L1008.6,464.3 L1013.6,457.9 L1008.6,467.4 L1015.7,466.7 L1030.0,463.6 L1044.3,458.6 L1053.1,453.6 L1051.4,451.4 L1037.1,452.9 L1022.9,456.4 L1013.6,457.1 L1015.7,455.0 L1022.9,452.9 L1034.3,450.7 L1044.3,449.3 L1053.6,447.4 L1060.0,447.4 L1065.7,446.4 L1071.4,444.6 L1078.6,442.4 L1085.7,442.4 L1089.6,438.6 L1087.9,432.6 L1082.9,430.0 L1087.4,432.1 L1088.9,437.1 L1085.7,440.0 L1080.0,439.3 L1077.1,435.7 L1073.6,431.4 L1070.0,427.1 L1068.6,423.6 L1073.9,417.9 L1071.4,415.7 L1070.7,411.4 L1072.1,405.7 L1077.1,400.0 L1080.0,397.1 L1084.3,391.4 L1090.0,388.6 L1097.1,385.7 L1103.6,381.4 L1105.7,375.0 L1110.7,371.4 L1115.7,378.6 L1122.9,375.0 L1131.4,372.1 L1140.0,369.3 L1145.0,365.7 L1144.3,361.4 L1141.4,355.7 L1136.4,352.9 L1135.7,345.7 L1130.7,340.0 L1130.3,310.7 L1125.0,306.4 L1120.0,302.9 L1111.4,305.0 L1106.0,306.4 L1105.7,301.4 L1100.7,301.4 L1091.4,312.1 L1085.7,318.6 L1084.3,325.7 L1080.7,330.0 L1081.4,335.7 L1078.6,341.4 L1072.9,347.1 L1070.0,351.4 L1064.3,352.1 L1058.6,354.3 L1057.1,359.0 L994.3,359.3 L985.7,362.9 L977.1,370.0 L972.9,375.7 L965.7,379.3 L964.3,382.9 L967.1,388.6 L967.9,393.6 L962.9,395.7 L955.7,401.4 L947.1,401.4 L941.4,402.9 L934.3,399.3 L922.9,399.3 L913.6,401.4 L912.1,407.0 L916.4,411.4 L915.0,407.1 L917.4,412.9 L911.4,417.1 L904.3,422.9 L894.3,428.6 L885.7,432.9 L875.7,437.1 L865.7,442.9 L857.1,444.3 L847.1,446.0 L840.0,446.0 L837.1,442.9 L828.6,437.9 L831.4,435.7 L834.3,430.0 L838.6,424.3 L841.4,418.6 L845.7,415.7 L848.9,408.6 L847.9,401.4 L846.4,392.9 L844.3,385.7 L840.0,382.1 L832.9,384.3 L828.6,390.0 L824.3,393.9 L820.0,391.4 L820.3,385.7 L825.7,381.4 L830.0,375.7 L833.1,370.0 L831.4,364.3 L833.1,358.6 L830.7,353.6 L832.1,355.7 L828.6,351.4 L818.6,347.1 L808.6,342.1 L802.9,340.0 L800.0,344.3 L798.6,350.0 L792.9,354.3 L789.3,355.7 L792.9,358.6 L791.4,364.3 L787.4,362.9 L781.4,364.3 L775.7,368.6 L774.3,375.7 L771.4,382.9 L770.7,391.4 L771.4,397.0 L774.3,400.0 L777.4,407.1 L777.1,415.7 L774.3,424.3 L770.0,433.1 L764.3,437.4 L758.6,439.4 L752.9,438.6 L750.0,432.9 L747.4,427.1 L746.7,420.0 L746.0,412.9 L745.7,404.3 L747.1,397.0 L748.6,387.1 L751.4,377.1 L755.7,368.6 L760.0,361.4 L764.3,354.3 L768.3,348.3 L767.4,343.6 L762.9,347.9 L757.9,354.3 L752.9,361.4 L747.1,368.9 L741.7,372.1 L742.6,369.3 L746.4,364.3 L750.0,359.7 L752.9,357.9 L756.4,350.7 L759.3,343.1 L761.4,339.7 L770.0,339.7 L777.1,337.1 L784.3,336.4 L790.0,334.0 L795.7,335.0 L802.1,338.9 L805.7,337.1 L812.9,336.4 L821.7,336.6 L818.6,335.0 L815.1,331.4 L814.6,325.0 L808.6,325.7 L800.0,324.3 L801.7,317.9 L794.3,318.6 L785.7,318.6 L775.7,320.7 L768.6,325.7 L762.9,323.6 L755.7,324.3 L752.9,320.0 L747.1,315.0 L738.6,313.6 L733.6,318.6 L735.7,312.1 L741.4,307.1 L748.9,303.6 L747.1,300.3 L738.6,300.7 L732.9,303.6 L722.9,310.0 L720.0,314.0 L710.0,315.7 L701.4,319.3 L694.3,320.7 L688.6,320.0 L689.3,315.0 L684.3,312.9 L671.4,317.1 L660.7,319.3 L670.0,312.9 L680.0,306.4 L688.6,299.3 L698.6,294.3 L714.3,288.6 L705.7,287.9 L698.6,286.4 L690.0,285.0 L685.7,282.9 L677.1,287.1 L671.4,285.0 L665.7,280.7 L660.0,282.1 L654.3,276.4 L647.1,273.6 L640.0,273.6 L632.9,276.4 L627.1,272.9 L620.0,271.4 L615.0,268.6 L612.9,256.4 L605.7,256.4 L605.7,264.7Z M55.0,330.3 L64.3,330.0 L72.9,332.9 L76.4,337.1 L77.9,342.9 L82.9,347.1 L87.1,347.9 L94.3,345.3 L104.3,345.3 L110.0,345.0 L122.9,342.9 L137.1,339.3 L148.6,337.1 L165.7,335.7 L187.1,335.4 M187.1,264.7 L187.1,335.4 L192.9,338.6 L197.1,342.9 L198.0,346.0 L194.3,354.3 L190.0,362.9 L185.0,371.4 L183.6,377.0 M206.0,264.7 L206.0,288.6 L210.0,292.9 L211.4,300.0 L215.7,303.6 L221.4,307.1 L228.6,315.7 L232.9,320.0 L237.9,320.7 L238.6,324.3 L236.4,330.0 L237.1,338.6 L234.3,342.9 L235.7,347.1 L240.0,348.6 L245.7,344.3 L248.6,345.7 L251.4,352.9 L257.1,358.6 L260.0,364.3 L264.3,370.0 L267.1,373.6 L272.9,372.1 L280.0,371.4 L287.1,370.7 L294.3,366.4 L298.6,368.6 L302.1,372.9 M566.4,264.7 L567.9,271.4 L567.1,278.6 L568.6,285.7 L571.4,291.4 L573.6,298.6 L574.3,307.1 L575.0,314.3 L575.0,321.4 L577.1,327.1 L579.3,332.9 L578.9,337.9 L577.9,341.4 L573.6,344.3 L574.3,348.6 L578.6,351.4 L581.4,352.1 L581.4,377.0 M660.7,319.3 L660.7,325.7 L660.0,334.3 L651.4,338.6 L647.9,345.0 L652.9,348.6 L651.4,355.7 L651.4,365.7 L657.1,371.4 L665.7,375.7 L670.0,377.0 M687.9,320.7 L700.0,324.3 L705.7,328.3 L720.0,332.9 M720.0,332.9 L730.0,335.7 L738.6,338.6 L742.9,344.3 L744.3,351.4 L748.6,355.7 L750.0,359.7 M1021.4,359.0 L1020.7,365.7 L1022.9,374.3 L1020.7,382.9 L1021.4,392.9 L1024.3,398.6 L1024.6,407.0 M1057.9,359.3 L1057.1,365.7 L1055.0,371.4 L1048.6,377.1 L1046.4,384.3 L1042.9,392.9 L1040.0,400.0 L1039.7,407.0 M1065.0,353.6 L1065.7,365.7 L1067.1,380.0 L1067.9,397.1 L1072.1,405.7 M49.3,432.1 L302.1,432.1 M183.6,377.0 L188.6,379.3 L190.0,382.9 L187.1,388.6 L187.1,432.1 M130.4,432.1 L130.4,497.0 M244.3,432.1 L244.3,497.0 M302.1,360.4 L302.1,455.8 M435.5,264.7 L435.5,455.8 M302.1,360.4 L435.5,360.4 M302.1,455.8 L473.9,455.8 M752.8,438.5 L752.8,492.0 M803.6,437.0 L803.6,501.0 M435.5,337.9 L578.6,337.9 M420.0,455.7 L473.6,455.7 L473.6,480.0 L600.0,480.0 L607.1,483.1 M435.4,408.3 L541.4,408.3 L550.0,414.3 L554.3,412.1 L564.3,411.7 L571.4,414.3 L577.1,417.1 M581.4,370.0 L581.4,396.4 L577.9,397.1 L578.6,402.9 L580.7,407.1 L579.3,412.9 L577.1,417.1 L581.4,422.9 L584.3,430.0 L588.6,437.1 L590.0,444.3 L592.9,450.0 L593.6,457.1 L592.1,462.9 L594.3,468.6 L598.6,474.3 L602.9,480.0 L607.1,482.9 L611.4,484.3 L608.6,488.6 L607.1,492.9 L611.4,497.0 M581.4,396.4 L680.0,396.4 M593.6,465.4 L672.9,465.0 L677.1,468.6 M654.3,370.0 L662.9,374.3 L670.0,380.0 L678.6,385.7 L681.4,391.4 L680.7,396.4 L684.3,402.9 L682.1,408.6 L685.7,414.3 L692.9,418.6 L698.6,425.7 L702.4,431.4 L700.0,438.6 L694.3,442.9 L684.3,445.7 L683.6,451.4 L685.7,455.7 L682.9,462.9 L677.1,467.9 L675.7,474.3 L677.1,481.4 L681.4,488.6 L687.1,494.3 L691.4,497.0 M693.6,420.0 L720.0,420.3 M661.4,330.0 L660.0,335.7 L651.4,340.0 L647.9,345.7 L652.9,350.0 L650.7,355.7 L650.7,365.7 L658.6,371.4 L667.1,375.7 L674.3,382.9 L680.0,387.1 L680.7,392.9 L680.7,396.4 M693.6,420.0 L745.0,419.7 M752.9,438.6 L752.9,457.0 M769.3,436.9 L828.6,437.6 M803.6,437.1 L803.6,457.0 M885.4,433.1 L885.4,457.0 M899.3,428.6 L899.3,432.1 L940.0,432.1 M899.3,428.3 L899.3,432.1 L985.0,431.4 L989.3,436.4 L991.4,442.1 L997.4,447.1 L1013.6,455.0 M997.4,447.1 L992.9,451.4 L988.6,457.1 L986.4,464.3 L990.0,470.0 L994.3,474.3 L997.1,477.1 L992.9,480.0 L988.6,482.9 L982.9,484.3 L980.0,487.1 M885.4,432.9 L885.4,487.1 L978.6,485.4 M1024.6,407.0 L1024.3,414.3 L1021.4,430.4 L1019.3,438.6 L1017.9,451.4 L1022.9,450.7 M1024.3,414.3 L1062.9,412.9 L1070.7,411.4 M1021.4,430.4 L1062.1,431.4 L1062.9,437.1 L1065.7,442.1 M1053.6,431.4 L1053.6,446.9 M1043.3,390.0 L1040.7,398.6 L1037.9,407.1 L1036.4,413.6 M1068.3,390.0 L1068.9,398.6 L1072.1,405.7 M978.6,485.4 L978.6,517.0 M130.4,490.0 L130.4,504.3 L231.4,596.4 M244.3,490.0 L244.3,574.3 L240.0,576.0 L232.9,574.3 L230.7,577.1 L231.4,587.1 L232.1,596.4 L234.3,602.9 L237.1,608.6 L240.0,617.0 M244.3,551.7 L330.0,551.7 M339.7,455.8 L339.7,688.0 M244.3,552.1 L616.0,552.1 M473.9,479.9 L473.9,552.1 M455.4,552.1 L455.4,563.7 L512.9,563.7 L512.9,610.0 L517.1,612.9 L521.4,614.6 L524.3,612.1 L528.6,615.0 L530.7,617.0 M595.7,470.0 L601.4,477.1 L608.6,482.9 L611.4,485.7 L607.1,490.0 L612.9,497.1 L615.7,500.7 L615.7,562.9 L617.9,578.6 L620.0,597.0 M615.7,563.7 L701.4,563.7 L704.3,567.1 L700.0,572.9 L695.7,576.4 L708.6,576.4 M675.7,470.0 L675.0,477.1 L678.6,484.3 L685.7,492.9 L690.0,498.6 L692.1,505.7 L698.6,505.0 L702.1,508.6 L700.0,514.3 L695.7,520.0 L698.6,524.3 L704.3,528.6 L710.0,532.9 L714.3,538.6 L714.3,545.7 L717.1,550.0 L721.4,552.9 L720.7,560.0 L715.7,561.4 L712.9,564.3 L712.1,570.0 L710.0,577.1 L707.1,582.9 L704.3,588.6 L701.4,590.0 L702.9,594.3 L703.6,597.0 M721.4,552.9 L724.3,548.6 L732.9,550.0 L734.3,544.3 L732.9,541.4 L740.0,540.0 L741.4,532.9 L745.7,531.4 L751.4,530.0 L760.0,532.9 L765.7,528.6 L768.6,531.4 L772.9,524.3 L778.6,527.1 L782.9,525.7 L787.1,520.0 L791.4,514.3 L792.9,511.4 L800.0,509.3 L804.3,507.1 L804.3,500.7 L810.0,502.9 L814.3,507.1 L821.4,510.0 L830.0,511.4 L838.6,510.0 L842.9,512.9 L847.1,517.1 L851.4,511.4 L855.7,504.3 L861.4,501.4 L865.7,495.7 L874.3,491.4 L880.0,485.7 L882.9,478.6 L884.3,470.0 M745.7,531.4 L742.9,527.1 L741.4,521.4 L747.1,515.7 L751.4,508.6 L752.9,502.9 L750.0,498.6 L751.4,491.4 L751.4,470.0 M803.6,470.0 L803.6,500.7 M712.9,563.7 L742.1,563.7 L742.1,559.7 L804.3,560.3 L861.4,561.4 L890.0,562.1 M847.1,517.1 L845.7,524.3 L848.6,530.0 L852.9,537.1 L857.1,541.4 L851.4,544.3 L844.3,550.0 L838.6,555.7 L832.9,558.6 L825.7,560.6 M857.1,541.4 L861.4,545.7 L870.0,545.7 L881.4,542.9 L890.0,540.0 M864.3,562.1 L861.4,568.6 L854.3,571.4 L845.7,575.7 L838.6,580.0 L831.4,584.3 L824.3,588.6 L817.1,592.9 L812.9,597.0 M885.4,461.0 L882.9,465.7 L884.3,470.0 L881.4,475.7 L878.6,484.3 L872.9,491.4 L865.7,495.7 L862.1,501.4 L860.0,507.1 L857.1,511.4 M905.9,486.9 L905.4,499.3 L908.6,497.1 L917.1,492.9 L922.9,489.3 L928.6,487.9 L932.9,490.0 L935.7,494.3 L938.9,498.6 L945.7,500.7 L952.9,504.3 L954.6,507.9 L948.6,512.9 L946.0,518.6 L951.4,517.4 L958.6,522.6 L965.7,528.3 L968.6,532.9 M938.9,498.6 L932.9,500.7 L927.1,504.0 L921.4,505.0 L917.1,509.7 L911.4,512.9 L909.3,517.9 L902.9,514.0 L900.0,522.9 L894.3,530.0 L890.7,538.3 L885.7,541.4 L879.6,543.3 L868.6,547.1 L862.9,547.1 L860.0,544.6 M978.6,486.9 L979.3,515.4 L988.1,515.4 M860.0,560.9 L974.3,562.3 M240.0,617.0 L242.9,617.4 L237.1,622.9 L234.3,630.0 L232.9,635.7 L230.7,641.4 L232.1,647.1 L235.0,648.6 L233.6,652.9 L230.0,655.3 M455.4,552.0 L455.4,672.1 L388.0,672.1 M513.0,563.4 L513.0,610.0 L517.1,613.6 L522.9,615.0 L525.7,612.9 L530.0,618.6 L537.1,620.7 L542.9,622.1 L548.6,620.7 L552.9,627.1 L558.6,625.0 L565.7,630.0 L571.4,625.7 L577.1,627.1 L582.9,630.7 L590.0,627.1 L597.1,625.0 L604.3,624.3 L611.4,628.6 L618.6,632.1 L626.9,632.9 L626.9,647.1 L627.1,670.0 L631.4,678.6 L635.7,688.6 L636.7,697.1 L634.3,707.1 L633.6,717.0 M620.0,597.0 L618.9,611.4 L617.9,632.1 M626.9,647.1 L680.0,647.1 M703.6,597.0 L704.3,595.7 L700.0,600.0 L695.7,605.7 L692.9,611.4 L688.6,615.7 L684.3,622.9 L681.4,631.4 L680.7,638.6 L682.9,647.1 L683.6,655.7 L685.0,664.3 L681.4,670.0 L678.6,678.6 L675.0,688.6 L673.6,695.7 L709.3,695.7 L710.0,700.0 L708.6,705.7 L711.4,712.9 L712.1,717.0 M626.9,647.4 L681.4,647.4 M700.7,599.6 L837.1,599.0 L850.0,595.0 L877.1,595.7 L880.0,603.6 L902.9,604.3 L923.6,625.4 M740.0,599.6 L737.9,632.9 L734.3,675.7 L734.3,710.0 M788.6,599.6 L792.9,625.7 L797.1,647.1 L801.4,664.3 L797.1,672.9 L797.1,681.4 L799.3,692.9 L800.7,701.7 L817.1,703.6 L838.6,705.0 L852.9,706.4 L855.7,710.3 L857.1,701.4 L860.0,700.0 L865.7,701.4 M798.6,695.4 L750.0,695.7 L751.4,702.9 L754.3,708.6 L757.1,711.4 M837.1,599.0 L830.7,605.4 L835.7,610.7 L842.9,615.7 L847.1,624.3 L855.7,632.9 L860.0,640.0 L865.7,647.1 L870.0,652.9 L871.4,660.0 L874.3,667.1 M812.9,597.0 L812.9,594.3 L813.7,599.0 M712.1,717.0 L710.3,708.6 L708.9,700.0 M976.0,487.1 L968.6,492.9 L961.4,497.1 L960.0,502.9 L963.1,510.0 L960.0,517.1 L965.7,521.4 L967.1,527.1 L968.6,532.9 L962.9,530.0 L955.0,527.4 L960.0,534.3 L965.7,538.6 L958.6,538.6 L962.9,545.7 L954.3,545.7 L960.0,551.4 L965.7,554.3 L972.9,554.3 M976.0,487.1 L971.7,491.4 L970.0,500.0 L968.6,505.7 L970.0,512.9 L971.4,520.0 L974.3,525.7 L978.6,530.0 L975.7,535.7 L972.9,541.4 L971.7,550.0 M970.0,533.6 L974.3,532.9 L980.0,530.7 M960.0,502.9 L965.7,500.7 L968.6,505.7 M958.6,568.6 L957.1,577.1 L962.9,572.9 L970.0,570.0 L968.6,577.1 L974.3,578.6 L970.0,584.3 L965.7,588.6 L958.6,588.6 L952.9,587.9 L960.0,592.9 L965.7,592.9 M957.1,567.1 L971.4,568.6 L968.6,572.9 L960.0,574.3 L965.7,577.1 L972.9,577.1 L975.7,581.4 L974.3,587.1 L968.6,585.7 L961.4,585.0 L954.3,588.6 L952.9,592.9 L961.4,591.4 L967.1,592.9 L964.3,598.6 L957.1,597.1 L951.4,600.0 L957.1,602.9 L961.4,602.9 M948.6,601.4 L944.3,605.7 L947.1,607.1 L942.9,610.0 M712.1,717.0 L702.9,718.6 L697.1,714.3 L700.0,711.4 L708.6,708.6 L712.1,717.0 M740.0,710.7 L740.7,702.9 L742.9,700.0 L744.3,708.6"/>
<path fill="#000" stroke="#000" stroke-width="2" stroke-linejoin="round" d="M70.0,272.0 L73.0,270.0 L77.0,270.5 L81.0,269.5 L84.8,271.8 L85.0,275.8 L81.5,275.2 L79.5,278.2 L75.5,278.8 L71.5,276.8Z M79.5,280.0 L84.8,277.5 L86.5,283.0 L89.2,288.0 L87.5,295.0 L87.0,304.0 L84.8,308.5 L80.2,309.6 L76.2,312.8 L72.5,310.6 L70.7,306.0 L72.5,300.5 L75.3,295.5 L76.5,290.5 L80.5,286.5 L79.8,283.0Z M787.4,355.7 L792.9,354.6 L794.6,361.4 L792.1,367.1 L787.9,366.0 L786.9,360.7Z M1070.0,446.4 L1078.6,446.0 L1077.9,449.3 L1071.4,448.9 L1070.0,446.4Z M1082.9,447.1 L1088.3,446.9 L1087.9,450.7 L1083.6,450.0 L1082.9,447.1Z M80.7,523.6 L87.1,524.3 L88.6,530.0 L90.7,535.7 L93.6,540.0 L91.4,542.1 L87.1,539.3 L84.3,537.1 L82.9,531.4 L81.4,527.1Z M577.1,750.0 L582.9,748.6 L587.1,749.3 L582.9,753.6 L577.9,755.0 L577.1,750.0Z M607.9,724.3 L615.0,722.9 L615.0,730.0 L608.6,730.7 L607.9,724.3Z M560.0,768.6 L565.7,767.1 L565.7,771.4 L560.7,772.1Z M554.3,780.0 L561.4,780.0 L561.4,785.7 L555.0,785.7Z M852.9,707.9 L857.1,707.9 L857.1,712.1 L853.1,712.1Z M841.4,767.1 L848.6,767.1 L849.3,772.9 L844.3,775.0 L840.7,771.4 L841.4,767.1Z M850.7,791.4 L856.4,791.4 L856.4,796.4 L852.1,796.4 L850.7,791.4Z M872.9,830.0 L878.6,830.0 L878.6,835.7 L873.6,836.4 L872.9,830.0Z"/>
<text class="lt" x="1187" y="365">Gen. x stage</text>
<rect x="1187.0" y="379.0" width="26.0" height="25.8" fill="#4d4d4d"/>
<text class="ll" x="1222.6" y="398.9">excl.-severe</text>
<rect x="1187.0" y="404.5" width="26.0" height="25.8" fill="#b3b3b3"/>
<text class="ll" x="1222.6" y="424.4">excl.-moderate</text>
<rect x="1187.0" y="429.9" width="26.0" height="25.8" fill="#0079ea"/>
<text class="ll" x="1222.6" y="449.8">OW gen. larvae</text>
<rect x="1187.0" y="455.4" width="26.0" height="25.8" fill="#003cdb"/>
<text class="ll" x="1222.6" y="475.3">OW gen. pupae</text>
<rect x="1187.0" y="480.9" width="26.0" height="25.8" fill="#0000cd"/>
<text class="ll" x="1222.6" y="500.8">OW gen. adults</text>
<rect x="1187.0" y="506.3" width="26.0" height="25.8" fill="#ff4500"/>
<text class="ll" x="1222.6" y="526.2">1st gen. eggs</text>
<rect x="1187.0" y="531.8" width="26.0" height="25.8" fill="#d8360b"/>
<text class="ll" x="1222.6" y="551.7">1st gen. larvae</text>
<rect x="1187.0" y="557.3" width="26.0" height="25.8" fill="#b12812"/>
<text class="ll" x="1222.6" y="577.2">1st gen. pupae</text>
<rect x="1187.0" y="582.7" width="26.0" height="25.8" fill="#8b1a1a"/>
<text class="ll" x="1222.6" y="602.6">1st gen. adults</text>
<rect x="1187.0" y="608.2" width="26.0" height="25.8" fill="#ffff00"/>
<text class="ll" x="1222.6" y="628.1">2nd gen. eggs</text>
<rect x="1187.0" y="633.7" width="26.0" height="25.8" fill="#eee300"/>
<text class="ll" x="1222.6" y="653.6">2nd gen. larvae</text>
<rect x="1187.0" y="659.1" width="26.0" height="25.8" fill="#ddc800"/>
<text class="ll" x="1222.6" y="679.0">2nd gen. pupae</text>
<rect x="1187.0" y="684.6" width="26.0" height="25.8" fill="#cdad00"/>
<text class="ll" x="1222.6" y="704.5">2nd gen. adults</text>
<rect x="1187.0" y="710.1" width="26.0" height="25.8" fill="#90ee90"/>
<text class="ll" x="1222.6" y="730.0">3rd gen. eggs</text>
<rect x="1187.0" y="735.5" width="26.0" height="25.8" fill="#60c060"/>
<text class="ll" x="1222.6" y="755.4">3rd gen. larvae</text>
<rect x="1405.0" y="379.0" width="26.0" height="25.8" fill="#309230"/>
<text class="ll" x="1440.6" y="398.9">3rd gen. pupae</text>
<rect x="1405.0" y="404.5" width="26.0" height="25.8" fill="#006400"/>
<text class="ll" x="1440.6" y="424.4">3rd gen. adults</text>
<rect x="1405.0" y="429.9" width="26.0" height="25.8" fill="#ff00ff"/>
<text class="ll" x="1440.6" y="449.8">4th gen. eggs</text>
<rect x="1405.0" y="455.4" width="26.0" height="25.8" fill="#d800d8"/>
<text class="ll" x="1440.6" y="475.3">4th gen. larvae</text>
<rect x="1405.0" y="480.9" width="26.0" height="25.8" fill="#b100b1"/>
<text class="ll" x="1440.6" y="500.8">4th gen. pupae</text>
<rect x="1405.0" y="506.3" width="26.0" height="25.8" fill="#8b008b"/>
<text class="ll" x="1440.6" y="526.2">4th gen. adults</text>
<rect x="1405.0" y="531.8" width="26.0" height="25.8" fill="#ffa54f"/>
<text class="ll" x="1440.6" y="551.7">5th gen. eggs</text>
<rect x="1405.0" y="557.3" width="26.0" height="25.8" fill="#ee9034"/>
<text class="ll" x="1440.6" y="577.2">5th gen. larvae</text>
<rect x="1405.0" y="582.7" width="26.0" height="25.8" fill="#dd7b1a"/>
<text class="ll" x="1440.6" y="602.6">5th gen. pupae</text>
<rect x="1405.0" y="608.2" width="26.0" height="25.8" fill="#cd6600"/>
<text class="ll" x="1440.6" y="628.1">5th gen. adults</text>
<rect x="1405.0" y="633.7" width="26.0" height="25.8" fill="#00ffff"/>
<text class="ll" x="1440.6" y="653.6">6th gen. eggs</text>
<rect x="1405.0" y="659.1" width="26.0" height="25.8" fill="#00d8d8"/>
<text class="ll" x="1440.6" y="679.0">6th gen. larvae</text>
<rect x="1405.0" y="684.6" width="26.0" height="25.8" fill="#00b1b1"/>
<text class="ll" x="1440.6" y="704.5">6th gen. pupae</text>
<rect x="1405.0" y="710.1" width="26.0" height="25.8" fill="#008b8b"/>
<text class="ll" x="1440.6" y="730.0">6th gen. adults</text>
<rect x="1405.0" y="735.5" width="26.0" height="25.8" fill="#adff2f"/>
<text class="ll" x="1440.6" y="755.4">7th gen. eggs</text>
<rect x="1617.0" y="379.0" width="26.0" height="25.8" fill="#8ad81f"/>
<text class="ll" x="1652.8" y="398.9">7th gen. larvae</text>
<rect x="1617.0" y="404.5" width="26.0" height="25.8" fill="#67b10f"/>
<text class="ll" x="1652.8" y="424.4">7th gen. pupae</text>
<rect x="1617.0" y="429.9" width="26.0" height="25.8" fill="#458b00"/>
<text class="ll" x="1652.8" y="449.8">7th gen. adults</text>
<rect x="1617.0" y="455.4" width="26.0" height="25.8" fill="#ab82ff"/>
<text class="ll" x="1652.8" y="475.3">8th gen. eggs</text>
<rect x="1617.0" y="480.9" width="26.0" height="25.8" fill="#9b63ee"/>
<text class="ll" x="1652.8" y="500.8">8th gen. larvae</text>
<rect x="1617.0" y="506.3" width="26.0" height="25.8" fill="#8c44dd"/>
<text class="ll" x="1652.8" y="526.2">8th gen. pupae</text>
<rect x="1617.0" y="531.8" width="26.0" height="25.8" fill="#7d26cd"/>
<text class="ll" x="1652.8" y="551.7">8th gen. adults</text>
<rect x="1617.0" y="557.3" width="26.0" height="25.8" fill="#eedd82"/>
<text class="ll" x="1652.8" y="577.2">9th gen. eggs</text>
<rect x="1617.0" y="582.7" width="26.0" height="25.8" fill="#cdba56"/>
<text class="ll" x="1652.8" y="602.6">9th gen. larvae</text>
<rect x="1617.0" y="608.2" width="26.0" height="25.8" fill="#ac972b"/>
<text class="ll" x="1652.8" y="628.1">9th gen. pupae</text>
<rect x="1617.0" y="633.7" width="26.0" height="25.8" fill="#8b7500"/>
<text class="ll" x="1652.8" y="653.6">9th gen. adults</text>
<rect x="1617.0" y="659.1" width="26.0" height="25.8" fill="#98f5ff"/>
<text class="ll" x="1652.8" y="679.0">10th gen. eggs</text>
<rect x="1617.0" y="684.6" width="26.0" height="25.8" fill="#86d5f9"/>
<text class="ll" x="1652.8" y="704.5">10th gen. larvae</text>
<rect x="1617.0" y="710.1" width="26.0" height="25.8" fill="#75b5f3"/>
<text class="ll" x="1652.8" y="730.0">10th gen. pupae</text>
<rect x="1617.0" y="735.5" width="26.0" height="25.8" fill="#6495ed"/>
<text class="ll" x="1652.8" y="755.4">10th gen. adults</text>
<rect x="1843.0" y="379.0" width="26.0" height="25.8" fill="#ffe4e1"/>
<text class="ll" x="1879.0" y="398.9">11th gen. eggs</text>
<rect x="1843.0" y="404.5" width="26.0" height="25.8" fill="#f9c0cb"/>
<text class="ll" x="1879.0" y="424.4">11th gen. larvae</text>
<rect x="1843.0" y="429.9" width="26.0" height="25.8" fill="#f39cb5"/>
<text class="ll" x="1879.0" y="449.8">11th gen. pupae</text>
</svg></body></html>
